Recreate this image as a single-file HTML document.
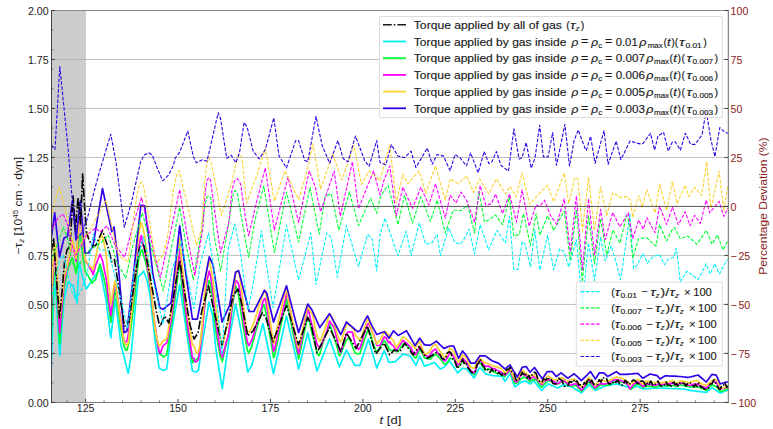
<!DOCTYPE html>
<html><head><meta charset="utf-8"><style>
html,body{margin:0;padding:0;background:#fff;}
svg{display:block;}
text{font-family:"Liberation Sans", sans-serif;fill:#1a1a1a;}
.lg2 text{stroke:#1a1a1a;stroke-width:0.15px;}
.tk{font-size:10.6px;}
.lab{font-size:10.6px;}
.rd{fill:#8b1a1a;}
.lg{font-size:10.6px;}
</style></head><body>
<svg width="773" height="429" viewBox="0 0 773 429">
<rect x="51.3" y="10.5" width="34.60" height="391.90" fill="#cccccc"/>
<line x1="51.3" x2="728.0" y1="353.41" y2="353.41" stroke="#b0b0b0" stroke-width="0.8"/>
<line x1="51.3" x2="728.0" y1="304.42" y2="304.42" stroke="#b0b0b0" stroke-width="0.8"/>
<line x1="51.3" x2="728.0" y1="255.44" y2="255.44" stroke="#b0b0b0" stroke-width="0.8"/>
<line x1="51.3" x2="728.0" y1="157.46" y2="157.46" stroke="#b0b0b0" stroke-width="0.8"/>
<line x1="51.3" x2="728.0" y1="108.48" y2="108.48" stroke="#b0b0b0" stroke-width="0.8"/>
<line x1="51.3" x2="728.0" y1="59.49" y2="59.49" stroke="#b0b0b0" stroke-width="0.8"/>
<defs><clipPath id="ax"><rect x="51.3" y="10.5" width="676.7" height="391.9"/></clipPath></defs>
<g clip-path="url(#ax)" fill="none" stroke-linejoin="round">
<path d="M51.3,368.0 L53.5,300.0 L54.7,291.0 L55.0,288.8 L55.5,285.0 L58.0,326.9 L59.0,343.7 L59.3,348.7 L59.5,352.0 L59.7,355.4 L59.8,354.1 L63.0,312.9 L63.2,310.3 L63.4,307.7 L64.0,300.0 L67.0,286.5 L67.5,284.2 L68.0,282.0 L68.2,282.2 L68.7,282.5 L71.0,284.3 L71.7,284.8 L72.0,285.0 L72.4,285.3 L73.3,286.0 L76.0,298.4 L77.0,303.0 L79.0,262.0 L80.0,266.3 L80.3,267.6 L81.0,270.7 L82.0,275.0 L85.0,284.5 L86.0,287.7 L86.4,289.0 L86.8,288.4 L87.0,288.0 L88.5,285.6 L89.0,284.8 L92.0,280.0 L93.0,278.6 L93.2,278.4 L95.0,275.9 L95.5,275.2 L100.0,269.0 L102.5,281.9 L106.0,300.0 L107.1,308.7 L108.0,315.8 L108.3,318.2 L110.8,338.0 L111.8,329.3 L114.1,309.3 L115.0,301.4 L115.3,298.8 L116.0,304.5 L116.2,306.1 L117.0,312.6 L117.6,317.4 L118.0,320.7 L121.0,345.0 L122.0,348.9 L124.0,356.8 L124.3,358.0 L124.6,359.1 L125.8,363.9 L127.0,368.6 L127.8,371.7 L128.1,372.9 L128.2,373.3 L130.0,362.2 L131.0,356.0 L131.3,352.6 L133.0,333.6 L134.0,322.4 L134.8,313.4 L136.0,300.0 L137.0,290.8 L137.1,289.9 L138.5,277.0 L139.0,276.4 L140.6,274.6 L140.9,274.3 L141.1,274.0 L141.5,273.6 L142.3,272.7 L143.5,271.3 L143.6,271.2 L144.1,272.5 L144.6,273.8 L146.5,278.7 L147.0,280.0 L148.8,289.0 L149.0,290.0 L150.0,295.0 L152.0,313.0 L152.3,315.7 L153.0,322.0 L155.0,340.0 L155.8,345.6 L158.1,361.7 L159.0,368.0 L159.8,368.5 L160.3,368.8 L162.8,370.4 L162.9,370.5 L163.0,370.5 L163.3,370.3 L166.7,369.0 L167.4,363.5 L168.6,354.0 L170.0,342.9 L171.0,335.0 L171.2,333.8 L172.0,329.2 L173.3,321.6 L175.2,310.6 L176.5,303.1 L179.1,288.0 L179.7,284.5 L181.5,297.0 L185.8,326.7 L186.0,328.1 L187.0,335.0 L187.8,340.3 L192.4,371.0 L193.3,371.2 L194.0,371.4 L194.8,371.7 L196.0,372.0 L196.4,371.7 L197.3,371.0 L198.5,370.0 L200.0,359.3 L201.5,348.6 L202.0,345.0 L202.4,342.5 L202.6,341.3 L204.7,328.4 L205.0,326.6 L205.5,323.5 L206.8,315.5 L207.0,314.3 L207.2,313.1 L208.5,305.1 L208.9,302.6 L209.0,302.0 L209.3,303.1 L210.5,307.6 L210.8,308.7 L211.0,309.4 L211.8,312.4 L212.5,315.0 L213.0,320.0 L214.0,330.0 L215.2,342.0 L216.0,350.0 L217.3,358.0 L218.2,363.5 L220.6,378.3 L221.4,383.2 L222.0,386.9 L222.1,387.5 L222.3,388.7 L226.7,356.7 L228.0,347.3 L229.0,340.0 L229.5,337.3 L230.0,334.5 L231.2,328.0 L232.0,323.6 L233.0,318.2 L234.5,310.0 L234.8,308.4 L235.0,307.3 L235.6,304.0 L235.8,305.0 L236.0,305.9 L237.2,311.6 L237.5,313.1 L238.5,317.8 L238.6,318.3 L239.5,322.6 L240.0,325.0 L240.3,326.8 L241.0,331.1 L242.0,337.2 L244.1,350.0 L245.0,355.5 L246.6,365.3 L247.1,368.3 L247.7,372.0 L248.0,371.5 L248.6,370.5 L249.2,369.6 L252.0,365.0 L253.0,361.2 L253.2,360.4 L253.8,358.2 L255.0,353.6 L257.0,346.0 L259.2,337.7 L261.4,329.3 L262.9,323.6 L263.8,327.8 L264.4,330.7 L265.3,334.9 L266.8,342.0 L273.0,371.2 L273.5,373.6 L273.8,372.3 L274.4,369.6 L279.0,349.2 L285.0,322.6 L286.5,316.0 L288.0,322.6 L295.6,355.9 L298.6,369.0 L304.7,344.7 L306.0,339.5 L307.7,332.7 L309.2,338.9 L310.0,342.2 L310.8,345.5 L312.0,350.4 L313.0,354.5 L315.0,362.8 L316.0,366.9 L317.0,371.0 L319.1,365.6 L319.8,363.8 L320.6,361.8 L322.1,357.9 L325.0,350.5 L326.7,346.1 L329.6,338.7 L329.7,339.0 L331.2,343.3 L332.7,347.6 L334.2,351.8 L337.3,360.7 L337.9,362.4 L338.8,365.0 L339.4,366.7 L340.3,364.6 L340.8,363.4 L341.8,361.0 L343.3,357.4 L346.4,350.0 L347.9,352.7 L349.4,355.5 L352.4,360.9 L353.9,363.7 L354.8,365.3 L355.5,365.3 L357.6,365.3 L358.5,365.3 L360.0,365.3 L361.5,360.6 L364.0,352.9 L364.5,351.3 L367.5,342.0 L367.6,341.7 L368.4,339.2 L369.1,341.6 L370.6,346.8 L372.0,351.6 L372.1,351.9 L373.6,357.1 L376.7,367.8 L376.8,368.1 L380.0,360.5 L384.0,351.1 L384.2,350.6 L384.3,350.4 L384.9,352.0 L385.8,354.3 L388.2,360.7 L388.9,362.5 L389.8,362.4 L391.4,362.2 L393.6,361.8 L395.4,361.6 L396.3,360.7 L398.0,359.0 L398.2,358.8 L402.8,354.2 L402.9,354.1 L404.5,354.5 L406.1,354.9 L406.6,355.0 L407.7,355.3 L410.4,356.0 L411.0,357.0 L412.6,359.7 L415.0,363.6 L415.9,365.1 L416.0,365.3 L419.2,357.3 L419.7,356.0 L420.8,358.4 L424.4,366.2 L425.7,365.7 L427.3,365.1 L428.9,364.6 L430.0,364.2 L430.6,364.0 L432.2,363.4 L434.6,362.5 L435.5,363.5 L436.5,364.7 L437.1,365.4 L440.2,369.0 L440.4,368.9 L443.6,367.4 L443.9,367.3 L445.3,365.7 L448.5,362.1 L449.6,360.8 L450.1,361.6 L453.4,366.5 L453.7,367.0 L455.0,368.9 L456.0,370.4 L457.7,373.0 L458.3,372.4 L458.5,372.2 L460.0,370.7 L460.6,370.1 L461.0,369.7 L462.6,368.1 L466.5,369.0 L466.7,369.0 L467.6,370.1 L469.0,371.8 L470.6,373.8 L470.8,374.0 L473.6,377.4 L474.0,377.9 L474.6,376.8 L474.9,376.3 L478.2,370.2 L478.8,369.1 L479.7,367.5 L479.8,367.3 L480.2,367.8 L484.2,372.3 L484.4,372.5 L485.5,373.8 L485.8,373.9 L488.6,374.6 L488.8,374.7 L490.0,375.0 L491.4,375.3 L491.8,375.4 L492.0,375.5 L495.6,375.8 L496.4,375.9 L497.0,375.9 L498.5,376.0 L500.9,376.2 L501.8,376.3 L502.6,377.5 L505.0,381.2 L505.3,380.8 L505.5,380.5 L508.5,376.0 L509.5,374.5 L510.0,373.8 L513.7,383.9 L513.9,384.4 L514.8,386.9 L516.0,386.0 L516.5,385.6 L517.3,385.0 L518.0,384.5 L519.1,383.7 L519.3,383.6 L521.4,382.0 L522.1,381.8 L522.2,381.8 L523.5,381.5 L525.0,381.2 L526.0,381.0 L526.1,381.1 L526.2,381.2 L529.1,383.3 L529.7,383.8 L530.0,384.0 L530.5,383.6 L531.2,383.1 L534.0,381.0 L534.6,381.8 L534.7,381.9 L535.0,382.3 L536.1,383.6 L539.7,388.1 L540.0,388.5 L541.5,390.4 L542.3,389.6 L543.4,388.5 L544.5,387.4 L547.2,384.8 L547.6,384.4 L548.1,383.9 L550.6,384.9 L552.1,385.6 L552.7,385.8 L553.6,386.2 L556.2,387.3 L556.5,387.4 L556.7,387.5 L557.9,388.0 L559.7,387.0 L561.1,386.1 L563.6,384.7 L564.2,384.9 L564.9,385.1 L567.7,385.8 L568.8,386.1 L569.5,386.3 L570.3,386.5 L572.0,387.0 L574.2,388.4 L574.8,388.7 L576.4,389.7 L577.9,390.7 L578.3,390.9 L581.5,392.9 L582.4,391.9 L585.4,388.6 L586.3,387.6 L588.5,385.1 L588.9,384.7 L590.5,386.1 L590.6,386.2 L594.5,389.6 L595.1,390.1 L595.4,390.4 L599.5,388.5 L600.6,388.0 L603.6,386.6 L604.0,386.5 L605.0,386.0 L605.2,386.0 L606.7,385.7 L607.7,385.5 L608.1,385.4 L611.2,384.9 L612.7,384.6 L613.0,384.5 L616.0,384.0 L616.2,384.0 L616.5,383.9 L619.8,384.8 L620.0,384.9 L620.5,385.0 L620.8,385.1 L625.0,386.3 L626.3,386.6 L626.5,386.7 L627.0,386.8 L628.2,387.2 L629.3,387.5 L629.8,387.6 L630.1,387.7 L630.5,387.8 L631.2,388.0 L632.8,387.6 L632.9,387.6 L633.6,387.4 L635.0,387.0 L637.3,386.4 L637.8,386.3 L638.6,386.7 L640.0,387.4 L642.1,388.5 L642.7,388.8 L642.9,388.8 L643.0,388.8 L643.3,388.8 L646.6,388.6 L646.8,388.6 L647.6,388.6 L650.0,388.5 L650.5,388.4 L652.2,388.4 L654.6,388.2 L655.0,388.2 L656.0,388.2 L657.3,388.1 L658.0,388.1 L659.6,388.0 L659.7,388.0 L659.8,388.0 L660.0,388.0 L663.6,388.1 L664.4,388.2 L665.5,388.2 L666.6,388.3 L668.1,388.3 L668.3,388.3 L672.0,388.5 L672.4,388.5 L673.7,388.6 L674.6,388.6 L675.0,388.6 L676.5,388.7 L677.1,388.7 L678.3,388.8 L680.2,388.8 L680.4,388.9 L684.0,389.0 L685.3,389.3 L685.4,389.3 L686.8,389.7 L687.7,389.9 L688.2,390.0 L688.8,390.1 L690.0,390.4 L690.6,390.5 L691.4,390.6 L694.6,391.0 L695.0,391.0 L697.0,391.3 L698.0,391.4 L700.4,391.7 L701.6,391.8 L702.0,391.9 L706.2,392.4 L706.3,392.4 L706.4,392.4 L706.7,392.1 L709.7,389.6 L710.1,389.2 L710.5,388.9 L710.9,388.5 L712.0,387.6 L714.7,389.4 L714.9,389.5 L716.2,390.4 L717.5,391.2 L719.1,392.3 L719.4,392.5 L719.8,392.8 L720.3,393.1 L723.1,392.0 L723.7,391.7 L725.0,391.2 L726.0,390.8 L726.9,390.4 L728.0,390.0" stroke="#00f0f8" stroke-width="1.7"/>
<path d="M51.3,336.1 L53.5,281.5 L54.7,273.0 L55.0,272.0 L55.5,271.3 L58.0,315.0 L59.0,332.6 L59.3,337.5 L59.5,340.7 L59.7,343.7 L59.8,342.5 L63.0,300.9 L63.2,298.0 L63.4,295.0 L64.0,287.7 L67.0,274.2 L67.5,271.8 L68.0,268.5 L68.2,268.1 L68.7,267.0 L71.0,260.9 L71.7,259.8 L72.0,259.6 L72.4,258.2 L73.3,260.2 L76.0,273.5 L77.0,267.4 L79.0,237.6 L80.0,235.1 L80.3,234.4 L81.0,239.7 L82.0,248.2 L85.0,270.5 L86.0,272.7 L86.4,273.7 L86.8,273.5 L87.0,273.5 L88.5,276.6 L89.0,277.5 L92.0,283.2 L93.0,281.9 L93.2,281.7 L95.0,280.1 L95.5,279.6 L100.0,264.1 L102.5,272.7 L106.0,288.1 L107.1,295.7 L108.0,301.9 L108.3,303.0 L110.8,322.5 L111.8,314.9 L114.1,295.8 L115.0,290.1 L115.3,288.2 L116.0,293.7 L116.2,295.2 L117.0,301.1 L117.6,305.1 L118.0,307.8 L121.0,330.1 L122.0,335.1 L124.0,346.4 L124.3,346.7 L124.6,347.4 L125.8,350.1 L127.0,350.2 L127.8,346.8 L128.1,346.2 L128.2,346.0 L130.0,334.4 L131.0,328.1 L131.3,325.5 L133.0,311.1 L134.0,303.5 L134.8,295.1 L136.0,282.5 L137.0,273.2 L137.1,272.3 L138.5,259.9 L139.0,258.1 L140.6,252.5 L140.9,251.2 L141.1,251.0 L141.5,250.6 L142.3,249.7 L143.5,255.5 L143.6,255.9 L144.1,257.3 L144.6,258.4 L146.5,266.0 L147.0,268.0 L148.8,278.4 L149.0,279.5 L150.0,285.3 L152.0,303.3 L152.3,305.9 L153.0,312.1 L155.0,327.9 L155.8,332.9 L158.1,347.4 L159.0,353.1 L159.8,354.3 L160.3,354.5 L162.8,355.7 L162.9,355.8 L163.0,356.1 L163.3,357.1 L166.7,354.7 L167.4,350.1 L168.6,342.3 L170.0,333.4 L171.0,327.1 L171.2,326.2 L172.0,321.0 L173.3,311.3 L175.2,297.3 L176.5,287.0 L179.1,265.3 L179.7,260.1 L181.5,283.0 L185.8,317.1 L186.0,318.6 L187.0,325.6 L187.8,331.3 L192.4,362.2 L193.3,362.4 L194.0,360.1 L194.8,360.1 L196.0,360.0 L196.4,359.6 L197.3,358.9 L198.5,356.6 L200.0,346.3 L201.5,333.2 L202.0,328.8 L202.4,325.6 L202.6,323.9 L204.7,306.3 L205.0,303.8 L205.5,300.3 L206.8,291.2 L207.0,289.8 L207.2,289.1 L208.5,284.2 L208.9,281.4 L209.0,280.8 L209.3,280.6 L210.5,284.1 L210.8,285.0 L211.0,286.6 L211.8,292.4 L212.5,297.3 L213.0,302.8 L214.0,315.2 L215.2,325.4 L216.0,332.2 L217.3,339.7 L218.2,345.0 L220.6,357.7 L221.4,359.1 L222.0,360.2 L222.1,360.9 L222.3,361.6 L226.7,341.8 L228.0,337.7 L229.0,330.6 L229.5,327.8 L230.0,324.5 L231.2,316.2 L232.0,310.2 L233.0,302.5 L234.5,293.4 L234.8,291.6 L235.0,289.9 L235.6,286.1 L235.8,286.3 L236.0,286.8 L237.2,289.5 L237.5,290.1 L238.5,294.8 L238.6,295.3 L239.5,301.4 L240.0,305.0 L240.3,307.2 L241.0,312.1 L242.0,318.8 L244.1,332.2 L245.0,337.0 L246.6,345.6 L247.1,348.3 L247.7,351.4 L248.0,351.3 L248.6,353.0 L249.2,352.3 L252.0,345.4 L253.0,341.5 L253.2,340.8 L253.8,338.9 L255.0,334.1 L257.0,327.4 L259.2,320.0 L261.4,313.7 L262.9,305.8 L263.8,304.6 L264.4,306.0 L265.3,310.0 L266.8,317.5 L273.0,353.8 L273.5,357.7 L273.8,357.4 L274.4,356.5 L279.0,334.0 L285.0,306.1 L286.5,298.5 L288.0,307.3 L295.6,345.7 L298.6,359.1 L304.7,330.5 L306.0,324.6 L307.7,316.7 L309.2,320.6 L310.0,322.7 L310.8,328.1 L312.0,332.6 L313.0,336.6 L315.0,344.3 L316.0,348.1 L317.0,353.4 L319.1,355.6 L319.8,353.9 L320.6,351.1 L322.1,345.7 L325.0,335.4 L326.7,332.4 L329.6,324.4 L329.7,324.5 L331.2,328.3 L332.7,333.4 L334.2,338.1 L337.3,347.5 L337.9,350.4 L338.8,354.4 L339.4,355.8 L340.3,354.7 L340.8,354.1 L341.8,351.5 L343.3,347.5 L346.4,340.2 L347.9,338.5 L349.4,338.4 L352.4,346.4 L353.9,350.1 L354.8,352.2 L355.5,353.0 L357.6,353.9 L358.5,354.0 L360.0,353.4 L361.5,348.8 L364.0,341.0 L364.5,339.5 L367.5,331.0 L367.6,330.9 L368.4,329.4 L369.1,330.7 L370.6,334.4 L372.0,340.0 L372.1,340.4 L373.6,344.5 L376.7,353.0 L376.8,353.2 L380.0,346.8 L384.0,340.9 L384.2,340.6 L384.3,340.5 L384.9,341.7 L385.8,342.5 L388.2,346.8 L388.9,349.3 L389.8,349.8 L391.4,350.5 L393.6,350.0 L395.4,351.4 L396.3,351.5 L398.0,351.6 L398.2,351.4 L402.8,344.5 L402.9,344.3 L404.5,342.8 L406.1,345.3 L406.6,345.4 L407.7,346.6 L410.4,349.2 L411.0,350.3 L412.6,354.5 L415.0,357.8 L415.9,357.9 L416.0,358.0 L419.2,351.0 L419.7,349.2 L420.8,349.9 L424.4,357.8 L425.7,357.9 L427.3,358.7 L428.9,358.9 L430.0,359.1 L430.6,359.1 L432.2,356.8 L434.6,354.8 L435.5,354.9 L436.5,354.9 L437.1,355.3 L440.2,358.8 L440.4,358.8 L443.6,363.4 L443.9,363.7 L445.3,364.3 L448.5,361.0 L449.6,358.4 L450.1,358.4 L453.4,359.0 L453.7,359.3 L455.0,361.7 L456.0,363.6 L457.7,366.7 L458.3,366.8 L458.5,366.9 L460.0,364.9 L460.6,364.0 L461.0,363.5 L462.6,361.3 L466.5,363.4 L466.7,363.6 L467.6,365.2 L469.0,368.8 L470.6,371.3 L470.8,371.5 L473.6,374.1 L474.0,374.5 L474.6,373.7 L474.9,372.9 L478.2,363.0 L478.8,361.3 L479.7,361.5 L479.8,361.5 L480.2,362.6 L484.2,369.3 L484.4,369.5 L485.5,369.8 L485.8,369.7 L488.6,368.9 L488.8,369.0 L490.0,369.8 L491.4,370.7 L491.8,370.9 L492.0,371.1 L495.6,372.6 L496.4,373.2 L497.0,373.6 L498.5,373.7 L500.9,374.1 L501.8,374.3 L502.6,375.5 L505.0,376.7 L505.3,376.0 L505.5,375.8 L508.5,371.8 L509.5,371.1 L510.0,370.8 L513.7,380.8 L513.9,381.3 L514.8,383.4 L516.0,383.1 L516.5,382.9 L517.3,382.8 L518.0,381.9 L519.1,381.0 L519.3,380.9 L521.4,378.7 L522.1,378.3 L522.2,378.1 L523.5,376.9 L525.0,377.7 L526.0,377.8 L526.1,377.9 L526.2,378.0 L529.1,380.7 L529.7,381.3 L530.0,381.6 L530.5,381.2 L531.2,380.6 L534.0,379.2 L534.6,380.0 L534.7,380.2 L535.0,379.9 L536.1,379.5 L539.7,385.0 L540.0,385.4 L541.5,387.1 L542.3,386.7 L543.4,385.3 L544.5,384.2 L547.2,381.4 L547.6,381.2 L548.1,380.7 L550.6,381.3 L552.1,381.7 L552.7,382.1 L553.6,382.3 L556.2,383.4 L556.5,383.3 L556.7,383.4 L557.9,383.7 L559.7,383.1 L561.1,382.0 L563.6,381.5 L564.2,381.7 L564.9,382.4 L567.7,384.2 L568.8,384.6 L569.5,385.4 L570.3,386.5 L572.0,386.0 L574.2,385.7 L574.8,385.7 L576.4,385.7 L577.9,387.6 L578.3,388.1 L581.5,391.0 L582.4,390.2 L585.4,386.2 L586.3,384.9 L588.5,382.0 L588.9,381.8 L590.5,383.2 L590.6,383.4 L594.5,388.0 L595.1,388.4 L595.4,388.7 L599.5,385.6 L600.6,385.1 L603.6,384.8 L604.0,384.8 L605.0,384.5 L605.2,384.5 L606.7,385.5 L607.7,385.1 L608.1,385.0 L611.2,383.9 L612.7,382.4 L613.0,382.2 L616.0,381.3 L616.2,381.3 L616.5,381.1 L619.8,381.9 L620.0,381.9 L620.5,381.6 L620.8,381.7 L625.0,382.9 L626.3,383.4 L626.5,383.5 L627.0,384.2 L628.2,386.1 L629.3,388.3 L629.8,389.0 L630.1,389.1 L630.5,389.2 L631.2,389.2 L632.8,387.7 L632.9,387.5 L633.6,386.0 L635.0,385.2 L637.3,384.1 L637.8,383.9 L638.6,384.2 L640.0,385.3 L642.1,386.8 L642.7,387.3 L642.9,387.3 L643.0,387.3 L643.3,387.2 L646.6,386.2 L646.8,386.2 L647.6,386.0 L650.0,386.3 L650.5,386.4 L652.2,386.6 L654.6,386.8 L655.0,386.9 L656.0,387.1 L657.3,386.3 L658.0,386.1 L659.6,385.7 L659.7,385.7 L659.8,385.8 L660.0,385.8 L663.6,385.6 L664.4,385.5 L665.5,385.7 L666.6,386.1 L668.1,385.9 L668.3,385.9 L672.0,385.5 L672.4,385.4 L673.7,385.4 L674.6,385.7 L675.0,385.9 L676.5,386.7 L677.1,386.3 L678.3,385.7 L680.2,384.8 L680.4,384.8 L684.0,385.6 L685.3,386.1 L685.4,386.1 L686.8,386.5 L687.7,386.5 L688.2,386.6 L688.8,386.7 L690.0,386.8 L690.6,386.8 L691.4,386.8 L694.6,387.0 L695.0,387.0 L697.0,387.2 L698.0,387.0 L700.4,387.8 L701.6,388.2 L702.0,388.4 L706.2,390.1 L706.3,390.1 L706.4,390.1 L706.7,389.8 L709.7,386.6 L710.1,386.2 L710.5,385.9 L710.9,385.6 L712.0,384.9 L714.7,386.1 L714.9,386.1 L716.2,386.5 L717.5,387.6 L719.1,389.7 L719.4,390.0 L719.8,390.6 L720.3,391.2 L723.1,390.8 L723.7,390.6 L725.0,390.0 L726.0,389.6 L726.9,389.3 L728.0,388.7" stroke="#00ff33" stroke-width="1.7"/>
<path d="M51.3,309.3 L53.5,265.4 L54.7,257.0 L55.0,257.0 L55.5,258.9 L58.0,302.9 L59.0,321.2 L59.3,326.4 L59.5,329.8 L59.7,332.7 L59.8,331.8 L63.0,294.4 L63.2,291.7 L63.4,289.4 L64.0,282.3 L67.0,269.0 L67.5,266.7 L68.0,263.1 L68.2,262.5 L68.7,260.6 L71.0,249.6 L71.7,246.2 L72.0,245.2 L72.4,242.9 L73.3,246.1 L76.0,261.1 L77.0,249.2 L79.0,224.5 L80.0,218.0 L80.3,215.9 L81.0,222.0 L82.0,232.0 L85.0,260.6 L86.0,261.6 L86.4,262.3 L86.8,262.6 L87.0,262.8 L88.5,265.8 L89.0,266.4 L92.0,271.5 L93.0,274.3 L93.2,274.8 L95.0,267.7 L95.5,265.7 L100.0,254.3 L102.5,260.6 L106.0,277.8 L107.1,285.6 L108.0,294.8 L108.3,297.0 L110.8,315.4 L111.8,308.1 L114.1,288.8 L115.0,284.1 L115.3,282.4 L116.0,287.2 L116.2,288.5 L117.0,293.6 L117.6,297.3 L118.0,299.8 L121.0,322.1 L122.0,327.8 L124.0,341.4 L124.3,341.2 L124.6,341.7 L125.8,341.7 L127.0,341.6 L127.8,336.7 L128.1,335.2 L128.2,334.7 L130.0,321.6 L131.0,314.5 L131.3,311.9 L133.0,298.1 L134.0,290.4 L134.8,282.4 L136.0,270.5 L137.0,261.3 L137.1,260.4 L138.5,248.4 L139.0,245.9 L140.6,238.0 L140.9,236.2 L141.1,236.1 L141.5,235.7 L142.3,239.9 L143.5,246.3 L143.6,246.8 L144.1,248.6 L144.6,250.1 L146.5,260.3 L147.0,262.8 L148.8,274.6 L149.0,275.8 L150.0,282.3 L152.0,300.6 L152.3,303.4 L153.0,309.7 L155.0,325.6 L155.8,330.8 L158.1,345.7 L159.0,351.6 L159.8,353.1 L160.3,353.4 L162.8,346.1 L162.9,345.8 L163.0,345.8 L163.3,345.6 L166.7,342.9 L167.4,339.3 L168.6,333.1 L170.0,326.2 L171.0,321.2 L171.2,320.4 L172.0,314.5 L173.3,304.1 L175.2,289.2 L176.5,278.0 L179.1,254.7 L179.7,249.1 L181.5,272.4 L185.8,310.5 L186.0,312.1 L187.0,320.0 L187.8,326.1 L192.4,357.8 L193.3,358.1 L194.0,358.5 L194.8,361.7 L196.0,361.8 L196.4,361.5 L197.3,360.9 L198.5,359.0 L200.0,349.0 L201.5,336.7 L202.0,332.7 L202.4,329.7 L202.6,328.2 L204.7,303.0 L205.0,299.3 L205.5,293.0 L206.8,282.2 L207.0,280.5 L207.2,279.2 L208.5,274.2 L208.9,272.0 L209.0,271.5 L209.3,271.2 L210.5,275.7 L210.8,277.7 L211.0,278.9 L211.8,283.9 L212.5,287.9 L213.0,292.2 L214.0,302.9 L215.2,314.6 L216.0,322.2 L217.3,331.6 L218.2,337.9 L220.6,352.3 L221.4,354.3 L222.0,355.9 L222.1,356.6 L222.3,357.2 L226.7,340.1 L228.0,337.2 L229.0,331.0 L229.5,327.3 L230.0,323.1 L231.2,312.9 L232.0,305.5 L233.0,298.7 L234.5,288.2 L234.8,286.5 L235.0,285.0 L235.6,280.7 L235.8,280.6 L236.0,280.8 L237.2,281.7 L237.5,282.2 L238.5,284.0 L238.6,284.2 L239.5,288.6 L240.0,292.2 L240.3,294.3 L241.0,299.2 L242.0,307.4 L244.1,323.5 L245.0,328.9 L246.6,337.6 L247.1,340.3 L247.7,343.4 L248.0,343.6 L248.6,345.5 L249.2,345.3 L252.0,339.4 L253.0,336.1 L253.2,335.5 L253.8,334.0 L255.0,329.8 L257.0,322.5 L259.2,314.7 L261.4,308.3 L262.9,301.6 L263.8,299.8 L264.4,298.5 L265.3,298.8 L266.8,306.8 L273.0,347.3 L273.5,351.2 L273.8,351.1 L274.4,350.1 L279.0,327.5 L285.0,301.0 L286.5,293.6 L288.0,297.7 L295.6,340.1 L298.6,354.0 L304.7,324.0 L306.0,317.8 L307.7,309.7 L309.2,312.7 L310.0,316.8 L310.8,321.1 L312.0,325.1 L313.0,328.9 L315.0,336.1 L316.0,340.2 L317.0,344.5 L319.1,347.1 L319.8,347.9 L320.6,347.4 L322.1,343.3 L325.0,336.0 L326.7,331.5 L329.6,321.1 L329.7,321.1 L331.2,323.7 L332.7,325.6 L334.2,327.8 L337.3,340.5 L337.9,343.6 L338.8,347.6 L339.4,350.5 L340.3,352.4 L340.8,351.7 L341.8,348.7 L343.3,343.8 L346.4,334.1 L347.9,332.0 L349.4,331.9 L352.4,332.4 L353.9,338.8 L354.8,342.3 L355.5,344.5 L357.6,348.3 L358.5,349.3 L360.0,348.2 L361.5,343.2 L364.0,334.6 L364.5,333.0 L367.5,324.0 L367.6,324.0 L368.4,323.6 L369.1,324.5 L370.6,328.2 L372.0,331.7 L372.1,331.9 L373.6,334.5 L376.7,345.1 L376.8,345.4 L380.0,345.5 L384.0,337.2 L384.2,336.9 L384.3,336.7 L384.9,337.4 L385.8,337.8 L388.2,341.7 L388.9,342.8 L389.8,341.6 L391.4,344.4 L393.6,346.1 L395.4,349.9 L396.3,351.0 L398.0,347.7 L398.2,347.6 L402.8,340.5 L402.9,340.5 L404.5,341.5 L406.1,343.2 L406.6,343.1 L407.7,344.3 L410.4,347.0 L411.0,348.1 L412.6,351.6 L415.0,354.7 L415.9,354.1 L416.0,354.1 L419.2,347.8 L419.7,346.3 L420.8,347.3 L424.4,355.2 L425.7,355.4 L427.3,356.3 L428.9,356.3 L430.0,355.0 L430.6,354.1 L432.2,351.4 L434.6,349.3 L435.5,349.0 L436.5,350.5 L437.1,352.1 L440.2,355.8 L440.4,355.9 L443.6,360.4 L443.9,360.7 L445.3,361.0 L448.5,355.6 L449.6,352.8 L450.1,352.3 L453.4,356.4 L453.7,356.7 L455.0,359.9 L456.0,362.0 L457.7,364.5 L458.3,364.7 L458.5,364.8 L460.0,362.0 L460.6,360.8 L461.0,360.0 L462.6,358.1 L466.5,362.3 L466.7,362.6 L467.6,364.8 L469.0,368.1 L470.6,370.5 L470.8,370.7 L473.6,372.6 L474.0,372.8 L474.6,372.0 L474.9,371.5 L478.2,363.2 L478.8,362.0 L479.7,360.1 L479.8,359.9 L480.2,359.9 L484.2,365.2 L484.4,365.3 L485.5,366.2 L485.8,366.4 L488.6,366.0 L488.8,366.1 L490.0,367.0 L491.4,368.0 L491.8,368.2 L492.0,368.3 L495.6,369.1 L496.4,369.9 L497.0,370.3 L498.5,370.8 L500.9,372.0 L501.8,372.6 L502.6,373.8 L505.0,375.3 L505.3,374.8 L505.5,374.5 L508.5,371.1 L509.5,370.6 L510.0,370.0 L513.7,378.5 L513.9,379.1 L514.8,381.3 L516.0,381.7 L516.5,381.9 L517.3,381.6 L518.0,380.3 L519.1,378.3 L519.3,377.9 L521.4,374.2 L522.1,373.0 L522.2,373.0 L523.5,374.2 L525.0,375.4 L526.0,375.8 L526.1,375.9 L526.2,375.9 L529.1,379.1 L529.7,379.2 L530.0,379.3 L530.5,378.4 L531.2,377.8 L534.0,376.8 L534.6,377.5 L534.7,377.8 L535.0,377.7 L536.1,378.2 L539.7,382.5 L540.0,382.7 L541.5,384.4 L542.3,384.3 L543.4,382.5 L544.5,381.2 L547.2,379.8 L547.6,380.0 L548.1,379.5 L550.6,380.4 L552.1,380.7 L552.7,381.1 L553.6,381.3 L556.2,383.2 L556.5,383.2 L556.7,383.3 L557.9,383.4 L559.7,382.4 L561.1,381.1 L563.6,380.6 L564.2,380.8 L564.9,381.6 L567.7,383.5 L568.8,383.8 L569.5,384.5 L570.3,385.5 L572.0,384.8 L574.2,384.1 L574.8,384.0 L576.4,383.9 L577.9,386.2 L578.3,386.7 L581.5,390.0 L582.4,389.3 L585.4,384.8 L586.3,383.4 L588.5,380.0 L588.9,379.9 L590.5,381.5 L590.6,381.7 L594.5,387.1 L595.1,387.5 L595.4,387.7 L599.5,384.2 L600.6,383.6 L603.6,384.0 L604.0,384.0 L605.0,383.9 L605.2,383.9 L606.7,383.5 L607.7,383.2 L608.1,382.9 L611.2,381.7 L612.7,380.4 L613.0,380.3 L616.0,379.7 L616.2,379.6 L616.5,379.5 L619.8,380.5 L620.0,380.5 L620.5,380.3 L620.8,380.4 L625.0,382.5 L626.3,383.4 L626.5,383.6 L627.0,384.0 L628.2,385.1 L629.3,387.7 L629.8,389.0 L630.1,388.6 L630.5,388.1 L631.2,387.3 L632.8,385.4 L632.9,385.2 L633.6,383.9 L635.0,383.2 L637.3,382.1 L637.8,381.9 L638.6,382.2 L640.0,383.6 L642.1,385.7 L642.7,386.3 L642.9,386.4 L643.0,386.3 L643.3,386.3 L646.6,384.2 L646.8,384.1 L647.6,384.0 L650.0,384.3 L650.5,384.5 L652.2,384.8 L654.6,385.2 L655.0,385.4 L656.0,384.9 L657.3,384.3 L658.0,384.3 L659.6,384.3 L659.7,384.3 L659.8,384.4 L660.0,384.4 L663.6,384.1 L664.4,384.0 L665.5,384.0 L666.6,384.3 L668.1,383.9 L668.3,383.8 L672.0,383.1 L672.4,383.1 L673.7,383.6 L674.6,384.1 L675.0,384.4 L676.5,385.3 L677.1,385.0 L678.3,384.6 L680.2,383.2 L680.4,383.1 L684.0,383.6 L685.3,383.9 L685.4,384.0 L686.8,384.6 L687.7,384.9 L688.2,385.1 L688.8,385.3 L690.0,385.5 L690.6,385.3 L691.4,385.1 L694.6,383.9 L695.0,384.0 L697.0,384.2 L698.0,384.4 L700.4,386.2 L701.6,386.4 L702.0,386.4 L706.2,388.0 L706.3,388.1 L706.4,388.1 L706.7,387.8 L709.7,384.4 L710.1,383.8 L710.5,383.2 L710.9,382.7 L712.0,381.3 L714.7,381.7 L714.9,381.6 L716.2,382.3 L717.5,384.3 L719.1,386.7 L719.4,387.3 L719.8,388.0 L720.3,388.9 L723.1,388.5 L723.7,388.4 L725.0,387.9 L726.0,387.4 L726.9,387.1 L728.0,386.7" stroke="#ff00ff" stroke-width="1.7"/>
<path d="M51.3,299.2 L53.5,255.0 L54.7,243.8 L55.0,244.0 L55.5,247.6 L58.0,289.4 L59.0,306.4 L59.3,311.3 L59.5,315.2 L59.7,318.1 L59.8,317.7 L63.0,288.1 L63.2,286.0 L63.4,283.9 L64.0,277.6 L67.0,266.5 L67.5,264.6 L68.0,261.2 L68.2,260.4 L68.7,258.2 L71.0,247.0 L71.7,243.6 L72.0,242.6 L72.4,240.2 L73.3,243.5 L76.0,258.6 L77.0,245.9 L79.0,222.5 L80.0,215.8 L80.3,213.6 L81.0,219.8 L82.0,230.0 L85.0,259.5 L86.0,261.0 L86.4,261.7 L86.8,261.9 L87.0,262.1 L88.5,264.9 L89.0,265.4 L92.0,267.7 L93.0,269.2 L93.2,269.3 L95.0,260.8 L95.5,258.5 L100.0,237.2 L102.5,236.0 L106.0,252.5 L107.1,265.9 L108.0,276.9 L108.3,279.8 L110.8,304.1 L111.8,299.6 L114.1,284.7 L115.0,281.8 L115.3,280.8 L116.0,286.7 L116.2,288.4 L117.0,294.8 L117.6,299.6 L118.0,302.1 L121.0,324.0 L122.0,329.5 L124.0,342.1 L124.3,342.0 L124.6,342.4 L125.8,344.3 L127.0,346.2 L127.8,343.7 L128.1,343.6 L128.2,343.2 L130.0,327.7 L131.0,318.7 L131.3,315.4 L133.0,297.4 L134.0,286.7 L134.8,276.5 L136.0,261.9 L137.0,250.3 L137.1,249.2 L138.5,236.8 L139.0,233.2 L140.6,224.3 L140.9,222.3 L141.1,222.4 L141.5,223.6 L142.3,226.1 L143.5,229.8 L143.6,230.4 L144.1,233.0 L144.6,235.2 L146.5,250.3 L147.0,253.9 L148.8,268.5 L149.0,270.0 L150.0,277.7 L152.0,298.5 L152.3,301.6 L153.0,308.6 L155.0,326.8 L155.8,333.0 L158.1,342.3 L159.0,345.8 L159.8,345.7 L160.3,344.9 L162.8,341.2 L162.9,341.1 L163.0,341.2 L163.3,341.0 L166.7,338.5 L167.4,335.3 L168.6,327.6 L170.0,319.7 L171.0,314.6 L171.2,313.8 L172.0,306.3 L173.3,293.0 L175.2,276.7 L176.5,264.3 L179.1,241.6 L179.7,238.7 L181.5,259.9 L185.8,298.5 L186.0,300.2 L187.0,308.2 L187.8,314.6 L192.4,345.3 L193.3,345.3 L194.0,345.7 L194.8,347.9 L196.0,351.7 L196.4,352.8 L197.3,353.1 L198.5,351.5 L200.0,343.4 L201.5,333.4 L202.0,327.0 L202.4,322.1 L202.6,319.6 L204.7,292.6 L205.0,289.5 L205.5,284.5 L206.8,270.9 L207.0,269.5 L207.2,268.7 L208.5,263.3 L208.9,261.4 L209.0,261.2 L209.3,260.7 L210.5,266.6 L210.8,267.9 L211.0,268.8 L211.8,273.3 L212.5,277.0 L213.0,280.5 L214.0,290.3 L215.2,301.3 L216.0,308.8 L217.3,318.8 L218.2,325.4 L220.6,340.0 L221.4,344.3 L222.0,346.1 L222.1,346.7 L222.3,346.9 L226.7,327.7 L228.0,324.3 L229.0,319.6 L229.5,317.6 L230.0,314.7 L231.2,307.5 L232.0,302.2 L233.0,294.7 L234.5,282.8 L234.8,280.4 L235.0,278.6 L235.6,273.3 L235.8,272.6 L236.0,272.3 L237.2,271.7 L237.5,271.5 L238.5,271.0 L238.6,271.0 L239.5,275.4 L240.0,278.7 L240.3,280.6 L241.0,285.8 L242.0,292.8 L244.1,312.5 L245.0,318.7 L246.6,329.7 L247.1,330.9 L247.7,332.0 L248.0,331.6 L248.6,332.0 L249.2,332.4 L252.0,327.2 L253.0,324.6 L253.2,324.1 L253.8,323.1 L255.0,319.2 L257.0,312.6 L259.2,304.6 L261.4,298.6 L262.9,294.2 L263.8,291.9 L264.4,290.3 L265.3,290.8 L266.8,298.4 L273.0,339.8 L273.5,343.5 L273.8,343.3 L274.4,341.9 L279.0,318.6 L285.0,292.5 L286.5,289.0 L288.0,297.8 L295.6,335.6 L298.6,348.1 L304.7,319.6 L306.0,314.0 L307.7,305.9 L309.2,308.8 L310.0,310.4 L310.8,312.0 L312.0,313.7 L313.0,316.0 L315.0,326.9 L316.0,331.9 L317.0,335.8 L319.1,340.0 L319.8,341.3 L320.6,340.9 L322.1,336.4 L325.0,328.4 L326.7,323.4 L329.6,313.6 L329.7,313.6 L331.2,316.4 L332.7,319.1 L334.2,324.3 L337.3,334.0 L337.9,336.2 L338.8,338.4 L339.4,339.9 L340.3,341.1 L340.8,341.7 L341.8,340.0 L343.3,334.6 L346.4,324.6 L347.9,323.6 L349.4,325.2 L352.4,328.2 L353.9,329.7 L354.8,332.9 L355.5,335.0 L357.6,338.0 L358.5,338.3 L360.0,339.5 L361.5,337.8 L364.0,329.4 L364.5,327.8 L367.5,319.4 L367.6,319.5 L368.4,320.0 L369.1,320.9 L370.6,326.3 L372.0,331.3 L372.1,331.6 L373.6,335.7 L376.7,343.8 L376.8,344.0 L380.0,340.1 L384.0,332.1 L384.2,331.8 L384.3,331.6 L384.9,331.6 L385.8,331.6 L388.2,335.3 L388.9,336.3 L389.8,335.0 L391.4,338.6 L393.6,340.7 L395.4,345.6 L396.3,347.4 L398.0,344.6 L398.2,344.5 L402.8,337.1 L402.9,337.1 L404.5,337.6 L406.1,338.9 L406.6,338.9 L407.7,340.6 L410.4,342.8 L411.0,343.7 L412.6,345.7 L415.0,348.3 L415.9,346.4 L416.0,346.3 L419.2,341.7 L419.7,341.4 L420.8,344.4 L424.4,353.7 L425.7,354.5 L427.3,353.7 L428.9,351.9 L430.0,350.7 L430.6,349.6 L432.2,346.6 L434.6,344.7 L435.5,344.1 L436.5,345.2 L437.1,346.8 L440.2,351.4 L440.4,351.6 L443.6,356.5 L443.9,356.8 L445.3,357.0 L448.5,351.3 L449.6,348.8 L450.1,348.1 L453.4,351.5 L453.7,351.8 L455.0,355.5 L456.0,357.7 L457.7,361.5 L458.3,362.4 L458.5,362.6 L460.0,359.9 L460.6,358.7 L461.0,358.0 L462.6,355.0 L466.5,357.6 L466.7,358.0 L467.6,360.4 L469.0,363.9 L470.6,367.1 L470.8,367.4 L473.6,368.3 L474.0,368.1 L474.6,367.2 L474.9,366.9 L478.2,360.1 L478.8,359.3 L479.7,358.2 L479.8,358.2 L480.2,358.7 L484.2,362.6 L484.4,362.7 L485.5,362.9 L485.8,363.0 L488.6,364.0 L488.8,364.1 L490.0,364.7 L491.4,365.2 L491.8,365.4 L492.0,365.5 L495.6,366.7 L496.4,367.0 L497.0,367.2 L498.5,367.4 L500.9,368.6 L501.8,369.2 L502.6,370.2 L505.0,373.1 L505.3,372.8 L505.5,372.7 L508.5,369.5 L509.5,369.5 L510.0,368.7 L513.7,376.8 L513.9,377.4 L514.8,379.2 L516.0,379.8 L516.5,379.8 L517.3,379.9 L518.0,378.4 L519.1,376.0 L519.3,375.7 L521.4,371.5 L522.1,370.1 L522.2,370.0 L523.5,371.2 L525.0,372.4 L526.0,372.9 L526.1,373.0 L526.2,373.0 L529.1,376.2 L529.7,376.9 L530.0,377.0 L530.5,376.2 L531.2,375.5 L534.0,374.8 L534.6,375.4 L534.7,375.7 L535.0,375.8 L536.1,377.0 L539.7,381.3 L540.0,381.5 L541.5,383.0 L542.3,383.1 L543.4,381.1 L544.5,379.7 L547.2,376.3 L547.6,376.2 L548.1,376.1 L550.6,377.7 L552.1,378.5 L552.7,379.1 L553.6,379.5 L556.2,380.0 L556.5,379.6 L556.7,379.6 L557.9,379.4 L559.7,378.6 L561.1,377.6 L563.6,378.4 L564.2,378.8 L564.9,379.7 L567.7,381.3 L568.8,381.0 L569.5,380.2 L570.3,380.0 L572.0,379.5 L574.2,379.2 L574.8,379.6 L576.4,381.6 L577.9,382.4 L578.3,383.1 L581.5,387.0 L582.4,386.4 L585.4,381.9 L586.3,380.6 L588.5,377.6 L588.9,377.6 L590.5,378.8 L590.6,379.0 L594.5,384.7 L595.1,385.0 L595.4,385.3 L599.5,380.4 L600.6,379.9 L603.6,380.7 L604.0,380.9 L605.0,380.8 L605.2,380.8 L606.7,381.7 L607.7,381.4 L608.1,381.0 L611.2,379.5 L612.7,378.3 L613.0,378.2 L616.0,377.2 L616.2,377.2 L616.5,376.9 L619.8,378.0 L620.0,377.9 L620.5,377.8 L620.8,377.8 L625.0,379.9 L626.3,380.8 L626.5,381.0 L627.0,381.4 L628.2,382.7 L629.3,384.1 L629.8,384.9 L630.1,384.4 L630.5,383.8 L631.2,383.7 L632.8,382.9 L632.9,382.7 L633.6,381.6 L635.0,380.8 L637.3,379.5 L637.8,379.3 L638.6,379.6 L640.0,381.3 L642.1,383.8 L642.7,384.1 L642.9,384.0 L643.0,383.9 L643.3,383.7 L646.6,381.3 L646.8,381.2 L647.6,381.1 L650.0,381.4 L650.5,381.7 L652.2,382.2 L654.6,382.7 L655.0,383.0 L656.0,382.5 L657.3,382.0 L658.0,382.2 L659.6,382.5 L659.7,382.6 L659.8,382.7 L660.0,382.7 L663.6,382.6 L664.4,382.4 L665.5,382.5 L666.6,382.8 L668.1,381.9 L668.3,381.8 L672.0,380.5 L672.4,380.3 L673.7,381.1 L674.6,381.7 L675.0,382.0 L676.5,383.1 L677.1,383.0 L678.3,382.1 L680.2,380.9 L680.4,380.8 L684.0,381.3 L685.3,381.6 L685.4,381.7 L686.8,382.2 L687.7,382.5 L688.2,382.7 L688.8,382.8 L690.0,382.3 L690.6,382.1 L691.4,381.8 L694.6,380.8 L695.0,380.7 L697.0,380.9 L698.0,381.0 L700.4,383.1 L701.6,384.0 L702.0,384.0 L706.2,385.6 L706.3,385.6 L706.4,385.6 L706.7,385.0 L709.7,382.8 L710.1,382.6 L710.5,382.5 L710.9,382.4 L712.0,380.6 L714.7,379.5 L714.9,379.4 L716.2,379.6 L717.5,381.7 L719.1,384.4 L719.4,385.2 L719.8,386.2 L720.3,387.4 L723.1,387.9 L723.7,388.1 L725.0,387.1 L726.0,386.4 L726.9,385.9 L728.0,385.3" stroke="#fad232" stroke-width="1.7"/>
<path d="M51.3,238.0 L53.5,221.8 L54.7,212.9 L55.0,215.7 L55.5,220.2 L58.0,243.2 L59.0,252.4 L59.3,255.2 L59.5,257.0 L59.7,256.2 L59.8,255.7 L63.0,242.2 L63.2,241.4 L63.4,240.5 L64.0,238.0 L67.0,236.9 L67.5,236.7 L68.0,233.0 L68.2,231.6 L68.7,227.9 L71.0,211.1 L71.7,205.9 L72.0,203.7 L72.4,200.8 L73.3,210.6 L76.0,240.0 L77.0,230.9 L79.0,212.8 L80.0,203.7 L80.3,201.0 L81.0,208.7 L82.0,219.8 L85.0,253.0 L86.0,253.0 L86.4,253.0 L86.8,253.0 L87.0,253.0 L88.5,253.0 L89.0,252.2 L92.0,247.6 L93.0,246.0 L93.2,244.8 L95.0,233.9 L95.5,230.9 L100.0,203.6 L102.5,188.5 L106.0,204.7 L107.1,209.8 L108.0,214.0 L108.3,215.4 L110.8,227.0 L111.8,231.6 L114.1,227.0 L115.0,235.1 L115.3,237.8 L116.0,244.1 L116.2,245.8 L117.0,253.0 L117.6,258.4 L118.0,262.0 L121.0,297.4 L122.0,309.1 L124.0,332.7 L124.3,332.5 L124.6,332.4 L125.8,331.7 L127.0,331.0 L127.8,324.1 L128.1,321.5 L128.2,320.6 L130.0,305.0 L131.0,296.2 L131.3,293.6 L133.0,278.8 L134.0,270.0 L134.8,262.0 L136.0,250.0 L137.0,240.0 L137.1,239.1 L138.5,226.7 L139.0,222.2 L140.6,208.0 L140.9,205.3 L141.1,205.3 L141.5,205.4 L142.3,205.5 L143.5,205.7 L143.6,205.7 L144.1,205.7 L144.6,205.8 L146.5,220.6 L147.0,224.5 L148.8,238.4 L149.0,240.0 L150.0,248.8 L152.0,266.2 L152.3,268.9 L153.0,275.0 L155.0,284.6 L155.8,288.5 L158.1,299.5 L159.0,303.9 L159.8,307.7 L160.3,308.0 L162.8,309.3 L162.9,309.3 L163.0,309.4 L163.3,309.2 L166.7,306.4 L167.4,305.9 L168.6,304.9 L170.0,303.8 L171.0,303.0 L171.2,302.8 L172.0,295.6 L173.3,283.8 L175.2,266.6 L176.5,254.8 L179.1,231.2 L179.7,225.8 L181.5,239.9 L185.8,273.4 L186.0,275.0 L187.0,281.9 L187.8,287.4 L192.4,319.2 L193.3,319.2 L194.0,319.2 L194.8,319.2 L196.0,319.2 L196.4,319.2 L197.3,319.2 L198.5,313.0 L200.0,305.2 L201.5,297.4 L202.0,294.8 L202.4,292.7 L202.6,291.6 L204.7,280.7 L205.0,279.2 L205.5,276.6 L206.8,269.8 L207.0,268.8 L207.2,267.7 L208.5,261.0 L208.9,258.9 L209.0,258.4 L209.3,256.8 L210.5,259.4 L210.8,260.0 L211.0,260.5 L211.8,262.2 L212.5,263.7 L213.0,264.8 L214.0,271.1 L215.2,278.6 L216.0,283.7 L217.3,291.8 L218.2,297.5 L220.6,312.6 L221.4,317.6 L222.0,321.4 L222.1,322.0 L222.3,321.6 L226.7,311.7 L228.0,308.8 L229.0,306.6 L229.5,305.5 L230.0,302.8 L231.2,296.2 L232.0,291.8 L233.0,286.3 L234.5,278.1 L234.8,276.5 L235.0,275.4 L235.6,272.1 L235.8,272.0 L236.0,271.9 L237.2,271.3 L237.5,271.2 L238.5,270.7 L238.6,270.6 L239.5,274.1 L240.0,276.0 L240.3,277.2 L241.0,279.9 L242.0,283.7 L244.1,291.8 L245.0,295.3 L246.6,301.5 L247.1,303.4 L247.7,305.7 L248.0,306.9 L248.6,309.2 L249.2,311.5 L252.0,311.5 L253.0,311.5 L253.2,311.5 L253.8,311.5 L255.0,309.1 L257.0,305.1 L259.2,300.7 L261.4,296.3 L262.9,293.3 L263.8,291.5 L264.4,290.3 L265.3,291.4 L266.8,293.3 L273.0,320.0 L273.5,322.1 L273.8,321.3 L274.4,319.6 L279.0,306.7 L285.0,290.0 L286.5,285.8 L288.0,291.6 L295.6,321.1 L298.6,332.7 L304.7,313.5 L306.0,309.4 L307.7,304.0 L309.2,306.1 L310.0,307.2 L310.8,308.3 L312.0,310.0 L313.0,312.3 L315.0,316.8 L316.0,319.0 L317.0,321.3 L319.1,326.0 L319.8,327.6 L320.6,326.5 L322.1,324.3 L325.0,320.2 L326.7,317.7 L329.6,313.6 L329.7,313.8 L331.2,316.6 L332.7,319.4 L334.2,322.2 L337.3,328.0 L337.9,329.1 L338.8,330.8 L339.4,331.9 L340.3,333.6 L340.8,334.5 L341.8,332.3 L343.3,328.9 L346.4,322.0 L347.9,323.3 L349.4,324.6 L352.4,327.2 L353.9,328.5 L354.8,329.3 L355.5,329.9 L357.6,331.7 L358.5,331.4 L360.0,330.8 L361.5,327.5 L364.0,322.0 L364.5,321.1 L367.5,315.9 L367.6,316.1 L368.4,317.9 L369.1,319.5 L370.6,322.9 L372.0,326.0 L372.1,326.2 L373.6,328.8 L376.7,334.3 L376.8,334.5 L380.0,333.3 L384.0,331.8 L384.2,331.7 L384.3,331.7 L384.9,332.5 L385.8,333.8 L388.2,337.2 L388.9,338.2 L389.8,336.8 L391.4,334.3 L393.6,330.8 L395.4,332.6 L396.3,333.5 L398.0,335.2 L398.2,335.4 L402.8,332.9 L402.9,332.8 L404.5,331.9 L406.1,331.1 L406.6,330.8 L407.7,332.8 L410.4,337.5 L411.0,338.6 L412.6,341.4 L415.0,345.7 L415.9,344.3 L416.0,344.1 L419.2,339.0 L419.7,338.2 L420.8,339.7 L424.4,344.8 L425.7,344.9 L427.3,345.1 L428.9,345.2 L430.0,345.3 L430.6,344.9 L432.2,343.9 L434.6,342.4 L435.5,341.8 L436.5,341.2 L437.1,341.8 L440.2,344.9 L440.4,345.0 L443.6,348.2 L443.9,348.5 L445.3,347.9 L448.5,346.5 L449.6,346.0 L450.1,346.0 L453.4,346.1 L453.7,346.1 L455.0,349.4 L456.0,351.9 L457.7,356.3 L458.3,357.8 L458.5,358.3 L460.0,355.6 L460.6,354.6 L461.0,353.8 L462.6,351.0 L466.5,355.8 L466.7,356.0 L467.6,357.6 L469.0,360.0 L470.6,362.8 L470.8,363.2 L473.6,363.2 L474.0,363.2 L474.6,363.2 L474.9,363.2 L478.2,358.3 L478.8,357.4 L479.7,356.0 L479.8,355.9 L480.2,355.9 L484.2,355.9 L484.4,355.9 L485.5,355.9 L485.8,356.1 L488.6,358.2 L488.8,358.4 L490.0,359.3 L491.4,360.3 L491.8,360.6 L492.0,360.8 L495.6,362.1 L496.4,362.4 L497.0,362.6 L498.5,363.2 L500.9,365.3 L501.8,366.1 L502.6,366.9 L505.0,369.0 L505.3,368.8 L505.5,368.6 L508.5,366.1 L509.5,365.3 L510.0,364.9 L513.7,371.1 L513.9,371.4 L514.8,372.9 L516.0,374.9 L516.5,375.8 L517.3,377.1 L518.0,375.7 L519.1,373.5 L519.3,373.1 L521.4,368.9 L522.1,367.5 L522.2,367.3 L523.5,367.0 L525.0,366.7 L526.0,366.5 L526.1,366.5 L526.2,366.5 L529.1,370.9 L529.7,371.8 L530.0,372.2 L530.5,371.7 L531.2,371.0 L534.0,368.2 L534.6,367.6 L534.7,367.7 L535.0,368.2 L536.1,369.8 L539.7,375.2 L540.0,375.6 L541.5,377.8 L542.3,379.0 L543.4,377.3 L544.5,375.7 L547.2,371.6 L547.6,371.6 L548.1,371.6 L550.6,371.6 L552.1,371.6 L552.7,372.3 L553.6,373.4 L556.2,376.5 L556.5,376.3 L556.7,376.1 L557.9,375.2 L559.7,373.9 L561.1,372.8 L563.6,374.8 L564.2,375.3 L564.9,375.9 L567.7,378.2 L568.8,377.5 L569.5,377.0 L570.3,376.4 L572.0,375.3 L574.2,373.8 L574.8,374.4 L576.4,375.8 L577.9,377.2 L578.3,377.6 L581.5,380.6 L582.4,379.7 L585.4,376.7 L586.3,375.8 L588.5,373.6 L588.9,373.2 L590.5,371.6 L590.6,371.8 L594.5,377.6 L595.1,378.5 L595.4,379.0 L599.5,372.8 L600.6,372.8 L603.6,372.8 L604.0,373.2 L605.0,374.1 L605.2,374.2 L606.7,375.6 L607.7,376.5 L608.1,376.3 L611.2,374.6 L612.7,373.7 L613.0,373.5 L616.0,371.9 L616.2,371.8 L616.5,371.6 L619.8,374.4 L620.0,374.4 L620.5,374.4 L620.8,374.4 L625.0,374.4 L626.3,374.4 L626.5,374.4 L627.0,374.3 L628.2,374.2 L629.3,374.1 L629.8,374.1 L630.1,374.1 L630.5,374.0 L631.2,374.0 L632.8,373.8 L632.9,373.8 L633.6,373.7 L635.0,373.6 L637.3,373.4 L637.8,373.3 L638.6,374.1 L640.0,375.5 L642.1,377.6 L642.7,378.2 L642.9,378.1 L643.0,378.0 L643.3,377.9 L646.6,376.0 L646.8,375.8 L647.6,375.4 L650.0,374.0 L650.5,374.1 L652.2,374.5 L654.6,375.1 L655.0,375.2 L656.0,375.4 L657.3,375.7 L658.0,376.6 L659.6,378.7 L659.7,378.9 L659.8,379.0 L660.0,378.9 L663.6,376.8 L664.4,376.3 L665.5,375.7 L666.6,375.8 L668.1,375.8 L668.3,375.9 L672.0,376.1 L672.4,376.1 L673.7,376.1 L674.6,376.2 L675.0,376.2 L676.5,376.3 L677.1,376.3 L678.3,376.4 L680.2,376.5 L680.4,376.5 L684.0,377.0 L685.3,377.1 L685.4,377.1 L686.8,377.3 L687.7,377.4 L688.2,377.5 L688.8,377.3 L690.0,377.0 L690.6,376.9 L691.4,376.7 L694.6,375.9 L695.0,375.8 L697.0,375.3 L698.0,375.0 L700.4,377.0 L701.6,378.0 L702.0,378.3 L706.2,381.8 L706.3,381.9 L706.4,382.0 L706.7,381.6 L709.7,377.5 L710.1,376.9 L710.5,376.4 L710.9,375.8 L712.0,374.3 L714.7,374.8 L714.9,374.8 L716.2,375.0 L717.5,377.9 L719.1,381.4 L719.4,382.0 L719.8,382.9 L720.3,384.0 L723.1,383.0 L723.7,382.8 L725.0,382.4 L726.0,382.0 L726.9,382.0 L728.0,382.0" stroke="#3200e6" stroke-width="1.7"/>
<path d="M51.3,252.0 L53.5,238.0 L56.0,272.0 L59.5,318.0 L62.0,292.0 L64.5,262.0 L67.0,250.0 L70.0,246.0 L73.0,196.0 L75.5,230.0 L78.0,198.0 L80.5,224.0 L82.6,174.0 L84.5,205.0 L86.5,232.0 L89.0,240.0 L93.2,247.0 L96.0,245.0 L102.5,230.5 L108.3,248.0 L111.8,262.0 L114.5,259.5 L119.0,290.0 L124.4,326.0 L126.8,325.7 L129.0,322.0 L134.0,285.0 L139.0,250.0 L141.8,242.4 L144.0,246.0 L148.5,267.9 L156.5,312.0 L159.8,327.0 L164.7,316.0 L168.8,323.0 L172.0,305.0 L179.7,260.3 L185.0,295.0 L190.0,325.0 L194.0,339.0 L198.0,333.0 L202.0,310.0 L208.5,286.0 L215.0,315.0 L222.0,345.0 L228.0,320.0 L233.0,296.0 L238.0,289.0 L242.0,305.0 L247.7,335.8 L253.0,331.0 L262.3,313.0 L266.0,318.0 L272.9,341.8 L286.5,305.5 L298.6,344.8 L307.7,317.6 L311.0,324.0 L317.0,352.7 L329.6,327.6 L340.8,351.3 L346.4,333.0 L356.2,348.5 L367.3,326.0 L375.7,354.0 L384.1,343.0 L389.7,354.8 L394.3,350.0 L400.2,351.3 L404.8,343.1 L413.0,354.8 L418.8,346.6 L427.0,358.3 L430.0,356.7 L436.5,352.6 L440.0,354.6 L441.9,358.3 L443.9,359.2 L445.6,358.5 L447.4,352.8 L449.6,351.8 L451.1,353.2 L453.0,359.7 L454.8,360.9 L456.7,366.8 L457.7,367.3 L460.4,365.0 L462.6,359.2 L464.1,363.4 L465.9,362.3 L467.8,367.9 L469.2,369.0 L471.5,372.6 L474.0,372.2 L475.2,371.6 L477.0,364.4 L478.9,363.0 L479.8,359.2 L480.7,360.1 L482.6,365.7 L484.4,367.1 L485.5,370.6 L488.1,369.5 L490.0,372.5 L491.8,368.6 L493.7,371.9 L495.3,370.6 L497.4,373.4 L499.2,372.5 L501.8,375.5 L502.9,373.4 L504.8,374.4 L506.6,369.0 L508.5,369.8 L510.0,367.3 L512.2,372.7 L514.0,373.1 L515.9,379.8 L517.3,380.4 L519.6,378.5 L522.2,372.2 L523.3,374.6 L525.1,372.7 L526.0,375.0 L527.0,378.0 L528.8,375.5 L530.0,378.8 L532.5,373.9 L534.6,372.2 L536.2,373.6 L538.1,379.8 L540.7,382.2 L541.8,382.5 L543.6,378.9 L545.5,380.0 L548.1,377.3 L549.2,379.7 L551.0,379.3 L552.9,383.4 L554.6,383.9 L556.6,383.9 L558.4,378.0 L559.5,379.0 L562.1,380.4 L564.0,386.3 L565.2,386.3 L567.7,386.1 L569.5,381.5 L571.4,382.5 L573.4,379.8 L575.1,382.6 L576.9,380.8 L578.8,385.1 L580.6,384.7 L581.5,386.3 L582.5,387.4 L584.3,382.6 L586.2,384.0 L588.0,378.7 L588.9,379.8 L589.9,382.5 L591.7,380.2 L593.6,384.1 L595.4,383.9 L597.3,384.7 L599.1,379.7 L601.0,382.1 L602.8,377.3 L604.4,378.2 L606.5,378.3 L608.4,383.8 L610.9,383.9 L612.1,384.1 L614.0,381.0 L615.8,382.4 L618.0,380.0 L619.5,383.9 L622.0,385.0 L623.2,385.2 L625.0,380.3 L626.0,381.0 L626.9,383.0 L628.7,381.5 L630.0,384.0 L632.4,380.6 L634.0,380.0 L636.1,381.7 L638.0,385.0 L639.8,381.3 L642.0,381.0 L643.5,381.4 L646.0,386.0 L647.2,383.1 L649.1,384.8 L650.0,382.0 L650.9,381.2 L652.8,385.4 L654.0,385.0 L656.5,383.7 L658.0,381.0 L660.2,385.6 L662.0,386.0 L663.9,386.1 L666.0,382.0 L667.6,385.0 L670.0,385.0 L671.3,386.1 L673.1,380.9 L674.0,382.0 L675.0,384.7 L676.8,383.7 L678.0,386.0 L680.5,382.2 L682.0,383.0 L684.2,383.3 L686.0,386.0 L687.9,383.1 L690.0,383.0 L691.6,383.3 L694.0,387.0 L695.3,384.4 L697.2,386.4 L698.0,384.0 L699.0,383.1 L700.9,387.4 L702.0,387.0 L704.6,389.3 L706.4,389.0 L708.3,388.4 L710.0,384.0 L712.0,383.9 L713.8,379.8 L714.8,380.6 L715.7,383.7 L717.0,386.0 L719.4,389.4 L720.3,389.0 L721.2,386.8 L723.1,386.6 L724.0,384.0 L724.9,382.6 L726.8,387.5 L728.0,386.0" stroke="#000" stroke-width="1.6" stroke-dasharray="8.8,1.9,1.6,2.1"/>
<path d="M51.3,300.0 L55.0,280.0 L59.0,262.0 L63.0,255.0 L67.0,270.0 L71.0,290.0 L76.0,300.0 L81.0,290.0 L87.0,275.0 L93.2,234.0 L100.0,250.0 L108.0,250.0 L116.0,280.0 L127.8,328.0 L134.0,270.0 L143.6,236.7 L152.0,275.0 L162.9,324.0 L172.0,270.0 L181.5,241.0 L187.0,275.0 L194.0,308.5 L200.0,265.0 L208.5,233.0 L214.0,270.0 L222.0,355.0 L228.0,250.0 L234.8,223.8 L240.0,250.0 L248.0,310.0 L253.0,285.0 L261.4,230.8 L273.0,307.5 L286.5,225.5 L298.6,280.0 L310.8,233.0 L316.0,284.5 L326.7,233.0 L331.2,237.6 L337.3,277.0 L346.4,225.5 L358.5,266.4 L367.6,234.5 L372.1,239.0 L376.7,271.0 L380.0,235.0 L384.9,218.1 L398.0,255.6 L406.1,231.1 L411.0,255.6 L419.2,223.0 L425.7,244.2 L432.2,242.6 L437.1,234.4 L440.4,255.6 L448.5,227.9 L455.0,242.6 L460.6,244.3 L466.5,235.0 L469.0,229.0 L474.6,254.1 L480.2,224.8 L488.6,250.0 L497.0,230.3 L505.3,243.0 L509.5,216.4 L513.7,269.5 L518.0,269.5 L522.1,241.5 L525.0,244.3 L530.5,266.7 L534.7,230.3 L540.0,270.0 L547.6,235.2 L553.6,270.0 L559.7,248.8 L564.2,251.8 L568.8,267.0 L576.4,239.7 L582.4,305.0 L588.5,242.7 L594.5,280.6 L600.6,236.7 L605.2,260.9 L611.2,245.8 L616.0,262.0 L620.5,279.7 L625.0,250.0 L629.8,214.0 L633.6,268.5 L637.3,264.8 L642.9,253.6 L647.6,262.9 L652.2,257.3 L659.7,254.5 L664.4,264.8 L668.1,259.2 L673.7,257.3 L676.5,248.0 L680.2,282.0 L686.8,271.3 L691.4,274.1 L698.0,279.7 L706.3,263.8 L710.1,274.1 L714.7,263.8 L719.4,274.1 L726.9,260.1 L728.0,260.0" stroke="#00f0f8" stroke-width="1.1" stroke-dasharray="3.6,1.6"/>
<path d="M51.3,262.0 L55.0,250.0 L59.0,240.0 L63.4,227.3 L68.0,240.0 L72.0,262.0 L76.0,270.0 L81.0,262.0 L87.0,252.0 L95.0,246.0 L100.0,244.0 L108.3,235.1 L117.0,262.0 L125.8,278.2 L133.0,245.0 L142.3,213.0 L152.0,250.0 L163.3,291.0 L171.0,250.0 L179.7,207.3 L186.0,245.0 L193.3,280.0 L200.0,240.0 L205.0,205.0 L207.0,197.0 L208.9,195.6 L210.8,198.0 L214.0,235.0 L220.6,271.0 L230.0,215.0 L233.0,195.0 L235.0,190.3 L237.5,194.0 L241.0,215.0 L248.6,257.3 L255.0,220.0 L263.8,186.0 L274.4,252.7 L286.5,192.1 L298.6,242.1 L310.0,187.6 L319.1,234.5 L325.0,196.7 L331.2,193.6 L338.8,230.0 L349.4,192.0 L358.5,225.5 L370.6,198.2 L376.7,213.3 L380.0,198.5 L384.2,190.6 L388.2,185.5 L398.0,224.6 L404.5,195.3 L412.6,223.0 L420.8,196.9 L430.6,221.4 L437.1,200.1 L445.3,232.8 L453.4,210.0 L460.6,210.8 L466.5,206.0 L467.6,205.2 L474.6,233.1 L478.8,191.2 L484.4,222.0 L490.0,219.2 L495.6,215.0 L502.6,224.8 L509.5,196.8 L513.7,236.0 L519.3,234.5 L523.5,213.6 L530.5,245.7 L536.1,213.6 L540.0,235.2 L547.6,215.5 L553.6,230.6 L564.2,210.9 L570.3,260.9 L576.4,209.4 L582.4,282.0 L588.5,215.5 L594.5,264.0 L600.6,218.5 L606.7,254.8 L613.0,230.0 L620.0,243.2 L626.5,215.3 L629.3,222.3 L632.8,258.0 L638.6,238.6 L646.6,237.7 L656.0,246.1 L659.6,224.6 L666.6,241.0 L672.4,229.3 L674.6,227.5 L680.2,238.7 L687.7,235.9 L697.0,244.3 L706.3,230.3 L712.0,244.3 L717.5,234.9 L723.1,249.9 L728.0,240.0" stroke="#00ff33" stroke-width="1.1" stroke-dasharray="3.6,1.6"/>
<path d="M51.3,230.0 L54.7,223.8 L58.0,218.0 L63.2,213.8 L68.0,226.0 L72.0,245.0 L76.0,255.0 L80.0,248.0 L86.0,236.0 L95.5,228.0 L100.0,232.0 L107.1,225.8 L115.0,245.0 L124.6,257.3 L133.0,225.0 L141.5,197.5 L150.0,235.0 L160.3,277.6 L170.0,235.0 L179.7,189.5 L187.0,235.0 L194.8,275.5 L202.6,230.0 L205.5,190.0 L207.2,180.0 L208.9,177.7 L210.5,180.0 L211.8,190.0 L217.3,230.0 L220.6,252.7 L229.0,222.0 L232.0,190.0 L234.5,181.0 L237.2,178.8 L239.5,181.0 L241.0,186.0 L245.0,215.0 L248.6,236.0 L257.0,200.0 L265.3,167.9 L274.4,230.0 L288.0,177.0 L298.6,222.4 L309.2,170.9 L315.0,186.0 L320.6,211.8 L334.2,170.9 L340.3,216.4 L352.4,161.8 L358.5,208.8 L373.6,170.9 L380.0,195.0 L384.0,180.0 L389.8,165.9 L396.3,216.0 L402.8,187.1 L412.6,208.3 L420.8,187.1 L428.9,205.0 L435.5,183.8 L445.3,218.1 L450.1,195.3 L456.0,203.0 L461.0,192.0 L466.5,200.0 L474.6,222.0 L480.2,185.6 L485.8,205.2 L491.4,203.8 L495.6,194.0 L502.6,213.6 L509.5,194.0 L516.5,222.0 L522.1,189.8 L529.1,226.2 L536.1,205.2 L540.0,206.4 L544.5,200.3 L550.6,215.5 L556.7,224.5 L564.2,198.8 L570.3,251.8 L576.4,195.8 L582.4,270.0 L588.5,198.8 L594.5,254.8 L600.6,209.4 L605.2,239.7 L612.7,212.4 L620.0,226.9 L628.2,212.9 L632.8,238.6 L638.6,220.0 L643.3,229.3 L646.8,217.6 L655.0,232.7 L659.6,206.0 L666.6,224.6 L672.4,207.1 L678.3,224.6 L685.3,211.8 L690.0,225.8 L694.6,215.3 L700.4,223.4 L706.2,200.1 L709.7,212.9 L719.1,201.3 L723.7,216.4 L728.0,208.0" stroke="#ff00ff" stroke-width="1.1" stroke-dasharray="3.6,1.6"/>
<path d="M51.3,218.0 L55.0,200.0 L59.3,186.8 L63.0,200.0 L68.7,224.0 L72.0,242.0 L76.0,252.0 L80.0,246.0 L85.0,236.0 L89.0,232.0 L93.2,223.5 L106.0,200.2 L117.6,252.6 L122.0,258.0 L128.1,261.9 L134.8,210.0 L137.1,193.6 L139.0,186.0 L141.1,182.0 L143.5,186.0 L146.5,203.0 L150.0,224.0 L155.8,264.0 L163.0,255.0 L167.4,238.0 L173.3,190.0 L176.5,176.0 L179.1,170.4 L185.8,198.0 L196.4,245.0 L201.5,230.0 L204.7,182.0 L206.8,163.0 L208.9,157.8 L211.0,162.0 L215.2,182.0 L221.4,215.5 L232.0,182.0 L236.0,163.0 L238.5,156.0 L240.3,154.7 L242.0,158.0 L246.6,203.0 L257.0,175.0 L265.3,148.2 L274.4,201.2 L285.0,170.9 L298.6,199.7 L306.0,175.0 L313.0,143.6 L320.6,189.0 L332.7,154.2 L341.8,180.0 L353.9,145.2 L361.5,184.5 L369.1,170.9 L380.0,180.6 L384.0,165.0 L389.8,144.7 L396.3,203.0 L402.8,174.0 L407.7,183.8 L419.2,170.8 L425.7,193.6 L435.5,165.9 L445.3,200.1 L450.1,178.9 L458.3,183.8 L466.5,175.7 L473.6,192.4 L479.7,178.8 L488.8,194.0 L496.4,178.8 L505.5,194.0 L510.0,186.4 L516.0,197.0 L522.1,172.7 L529.7,204.5 L540.0,192.7 L547.6,185.2 L553.6,201.8 L564.2,173.0 L568.8,203.3 L574.8,177.6 L577.9,179.1 L582.4,230.6 L588.5,177.6 L594.5,230.6 L600.6,186.7 L606.7,215.5 L612.7,192.7 L620.0,197.3 L627.0,196.6 L630.5,200.1 L632.8,217.6 L638.6,195.5 L642.1,207.1 L646.8,189.6 L655.0,212.9 L659.6,183.8 L666.6,210.6 L672.4,181.5 L677.1,203.6 L685.3,185.0 L688.8,196.6 L694.6,187.3 L701.6,195.5 L706.7,161.7 L710.9,208.3 L719.1,171.0 L723.7,210.6 L728.0,185.0" stroke="#fad232" stroke-width="1.1" stroke-dasharray="3.6,1.6"/>
<path d="M51.3,145.0 L55.0,149.3 L59.8,66.2 L64.0,108.0 L68.2,150.0 L71.7,193.6 L77.0,238.0 L81.0,234.0 L86.8,220.4 L95.5,186.0 L100.0,170.0 L110.8,134.2 L116.2,163.3 L124.3,227.4 L131.3,203.0 L137.1,177.3 L140.6,162.1 L144.1,155.2 L148.8,152.8 L152.3,155.2 L158.1,170.3 L162.8,180.8 L168.6,175.0 L173.3,165.6 L175.2,158.2 L179.7,152.1 L187.8,131.0 L193.3,156.7 L196.4,162.7 L202.4,159.7 L207.0,161.2 L218.2,112.7 L220.6,118.8 L226.7,158.2 L231.2,155.2 L235.8,162.7 L239.5,152.7 L244.1,122.4 L247.1,127.0 L253.2,151.2 L259.2,158.8 L265.3,149.7 L273.8,117.9 L279.0,155.8 L286.5,167.9 L295.6,140.6 L298.6,140.6 L304.7,160.3 L307.7,161.8 L316.0,116.4 L322.1,145.2 L329.7,163.3 L337.9,140.6 L343.3,158.8 L347.9,161.8 L355.5,136.0 L364.5,160.3 L369.1,166.4 L376.7,140.6 L380.0,162.6 L385.8,164.8 L391.4,144.7 L398.0,156.1 L404.5,157.7 L411.0,151.2 L415.9,167.5 L427.3,148.0 L432.2,164.3 L437.1,154.5 L443.6,156.1 L450.1,170.8 L455.0,154.5 L460.0,157.7 L466.5,165.9 L470.6,153.0 L478.2,172.7 L484.2,151.5 L488.8,163.6 L491.8,162.1 L496.4,151.5 L500.9,165.2 L508.5,171.2 L513.9,128.8 L519.1,159.1 L522.1,157.6 L526.1,142.4 L531.2,168.2 L535.0,157.8 L539.7,125.2 L543.4,156.9 L548.1,156.9 L552.7,132.6 L556.5,165.3 L564.9,124.3 L569.5,166.2 L574.2,140.1 L578.3,129.9 L585.4,149.4 L586.3,150.4 L590.6,136.4 L595.1,163.4 L604.0,130.8 L608.1,164.4 L616.2,141.0 L620.8,159.7 L630.1,141.0 L635.0,142.6 L640.0,143.9 L643.0,143.5 L650.5,133.2 L654.6,150.0 L658.0,136.0 L663.6,132.3 L668.3,151.0 L672.0,142.6 L675.0,141.6 L680.4,150.0 L685.4,133.2 L690.6,144.4 L695.0,144.4 L702.0,135.1 L706.2,110.0 L710.5,137.9 L714.9,156.6 L719.8,127.6 L725.0,132.3 L728.0,133.2" stroke="#3200e6" stroke-width="1.1" stroke-dasharray="3.6,1.6"/>
</g>
<line x1="51.3" x2="728.0" y1="206.45" y2="206.45" stroke="#555" stroke-width="1"/>
<line x1="51" x2="728.8" y1="10.5" y2="10.5" stroke="#8a8a8a" stroke-width="1"/>
<line x1="51" x2="728.8" y1="402.5" y2="402.5" stroke="#7a7a7a" stroke-width="1"/>
<line x1="51.5" x2="51.5" y1="10" y2="403" stroke="#444" stroke-width="1"/>
<line x1="728.3" x2="728.3" y1="10" y2="403" stroke="#6a6a6a" stroke-width="1"/>
<line x1="85.60" x2="85.60" y1="402.4" y2="398.9" stroke="#333" stroke-width="0.9"/>
<text x="85.60" y="411.8" text-anchor="middle" class="tk">125</text>
<line x1="178.02" x2="178.02" y1="402.4" y2="398.9" stroke="#333" stroke-width="0.9"/>
<text x="178.02" y="411.8" text-anchor="middle" class="tk">150</text>
<line x1="270.45" x2="270.45" y1="402.4" y2="398.9" stroke="#333" stroke-width="0.9"/>
<text x="270.45" y="411.8" text-anchor="middle" class="tk">175</text>
<line x1="362.88" x2="362.88" y1="402.4" y2="398.9" stroke="#333" stroke-width="0.9"/>
<text x="362.88" y="411.8" text-anchor="middle" class="tk">200</text>
<line x1="455.30" x2="455.30" y1="402.4" y2="398.9" stroke="#333" stroke-width="0.9"/>
<text x="455.30" y="411.8" text-anchor="middle" class="tk">225</text>
<line x1="547.73" x2="547.73" y1="402.4" y2="398.9" stroke="#333" stroke-width="0.9"/>
<text x="547.73" y="411.8" text-anchor="middle" class="tk">250</text>
<line x1="640.15" x2="640.15" y1="402.4" y2="398.9" stroke="#333" stroke-width="0.9"/>
<text x="640.15" y="411.8" text-anchor="middle" class="tk">275</text>
<line x1="67.11" x2="67.11" y1="402.4" y2="400.4" stroke="#333" stroke-width="0.7"/>
<line x1="104.08" x2="104.08" y1="402.4" y2="400.4" stroke="#333" stroke-width="0.7"/>
<line x1="122.57" x2="122.57" y1="402.4" y2="400.4" stroke="#333" stroke-width="0.7"/>
<line x1="141.06" x2="141.06" y1="402.4" y2="400.4" stroke="#333" stroke-width="0.7"/>
<line x1="159.54" x2="159.54" y1="402.4" y2="400.4" stroke="#333" stroke-width="0.7"/>
<line x1="196.51" x2="196.51" y1="402.4" y2="400.4" stroke="#333" stroke-width="0.7"/>
<line x1="215.00" x2="215.00" y1="402.4" y2="400.4" stroke="#333" stroke-width="0.7"/>
<line x1="233.48" x2="233.48" y1="402.4" y2="400.4" stroke="#333" stroke-width="0.7"/>
<line x1="251.97" x2="251.97" y1="402.4" y2="400.4" stroke="#333" stroke-width="0.7"/>
<line x1="288.94" x2="288.94" y1="402.4" y2="400.4" stroke="#333" stroke-width="0.7"/>
<line x1="307.42" x2="307.42" y1="402.4" y2="400.4" stroke="#333" stroke-width="0.7"/>
<line x1="325.90" x2="325.90" y1="402.4" y2="400.4" stroke="#333" stroke-width="0.7"/>
<line x1="344.39" x2="344.39" y1="402.4" y2="400.4" stroke="#333" stroke-width="0.7"/>
<line x1="381.36" x2="381.36" y1="402.4" y2="400.4" stroke="#333" stroke-width="0.7"/>
<line x1="399.85" x2="399.85" y1="402.4" y2="400.4" stroke="#333" stroke-width="0.7"/>
<line x1="418.33" x2="418.33" y1="402.4" y2="400.4" stroke="#333" stroke-width="0.7"/>
<line x1="436.82" x2="436.82" y1="402.4" y2="400.4" stroke="#333" stroke-width="0.7"/>
<line x1="473.78" x2="473.78" y1="402.4" y2="400.4" stroke="#333" stroke-width="0.7"/>
<line x1="492.27" x2="492.27" y1="402.4" y2="400.4" stroke="#333" stroke-width="0.7"/>
<line x1="510.75" x2="510.75" y1="402.4" y2="400.4" stroke="#333" stroke-width="0.7"/>
<line x1="529.24" x2="529.24" y1="402.4" y2="400.4" stroke="#333" stroke-width="0.7"/>
<line x1="566.21" x2="566.21" y1="402.4" y2="400.4" stroke="#333" stroke-width="0.7"/>
<line x1="584.70" x2="584.70" y1="402.4" y2="400.4" stroke="#333" stroke-width="0.7"/>
<line x1="603.18" x2="603.18" y1="402.4" y2="400.4" stroke="#333" stroke-width="0.7"/>
<line x1="621.67" x2="621.67" y1="402.4" y2="400.4" stroke="#333" stroke-width="0.7"/>
<line x1="658.63" x2="658.63" y1="402.4" y2="400.4" stroke="#333" stroke-width="0.7"/>
<line x1="677.12" x2="677.12" y1="402.4" y2="400.4" stroke="#333" stroke-width="0.7"/>
<line x1="695.61" x2="695.61" y1="402.4" y2="400.4" stroke="#333" stroke-width="0.7"/>
<line x1="714.09" x2="714.09" y1="402.4" y2="400.4" stroke="#333" stroke-width="0.7"/>
<line x1="51.3" x2="54.8" y1="402.40" y2="402.40" stroke="#333" stroke-width="0.9"/>
<text x="48.6" y="406.80" text-anchor="end" class="tk">0.00</text>
<line x1="51.3" x2="54.8" y1="353.41" y2="353.41" stroke="#333" stroke-width="0.9"/>
<text x="48.6" y="357.81" text-anchor="end" class="tk">0.25</text>
<line x1="51.3" x2="54.8" y1="304.42" y2="304.42" stroke="#333" stroke-width="0.9"/>
<text x="48.6" y="308.82" text-anchor="end" class="tk">0.50</text>
<line x1="51.3" x2="54.8" y1="255.44" y2="255.44" stroke="#333" stroke-width="0.9"/>
<text x="48.6" y="259.84" text-anchor="end" class="tk">0.75</text>
<line x1="51.3" x2="54.8" y1="206.45" y2="206.45" stroke="#333" stroke-width="0.9"/>
<text x="48.6" y="210.85" text-anchor="end" class="tk">1.00</text>
<line x1="51.3" x2="54.8" y1="157.46" y2="157.46" stroke="#333" stroke-width="0.9"/>
<text x="48.6" y="161.86" text-anchor="end" class="tk">1.25</text>
<line x1="51.3" x2="54.8" y1="108.48" y2="108.48" stroke="#333" stroke-width="0.9"/>
<text x="48.6" y="112.88" text-anchor="end" class="tk">1.50</text>
<line x1="51.3" x2="54.8" y1="59.49" y2="59.49" stroke="#333" stroke-width="0.9"/>
<text x="48.6" y="63.89" text-anchor="end" class="tk">1.75</text>
<line x1="51.3" x2="54.8" y1="10.50" y2="10.50" stroke="#333" stroke-width="0.9"/>
<text x="48.6" y="14.90" text-anchor="end" class="tk">2.00</text>
<line x1="51.3" x2="53.3" y1="382.80" y2="382.80" stroke="#333" stroke-width="0.7"/>
<line x1="51.3" x2="53.3" y1="363.21" y2="363.21" stroke="#333" stroke-width="0.7"/>
<line x1="51.3" x2="53.3" y1="343.61" y2="343.61" stroke="#333" stroke-width="0.7"/>
<line x1="51.3" x2="53.3" y1="324.02" y2="324.02" stroke="#333" stroke-width="0.7"/>
<line x1="51.3" x2="53.3" y1="284.83" y2="284.83" stroke="#333" stroke-width="0.7"/>
<line x1="51.3" x2="53.3" y1="265.24" y2="265.24" stroke="#333" stroke-width="0.7"/>
<line x1="51.3" x2="53.3" y1="245.64" y2="245.64" stroke="#333" stroke-width="0.7"/>
<line x1="51.3" x2="53.3" y1="226.04" y2="226.04" stroke="#333" stroke-width="0.7"/>
<line x1="51.3" x2="53.3" y1="186.85" y2="186.85" stroke="#333" stroke-width="0.7"/>
<line x1="51.3" x2="53.3" y1="167.26" y2="167.26" stroke="#333" stroke-width="0.7"/>
<line x1="51.3" x2="53.3" y1="147.66" y2="147.66" stroke="#333" stroke-width="0.7"/>
<line x1="51.3" x2="53.3" y1="128.07" y2="128.07" stroke="#333" stroke-width="0.7"/>
<line x1="51.3" x2="53.3" y1="88.88" y2="88.88" stroke="#333" stroke-width="0.7"/>
<line x1="51.3" x2="53.3" y1="69.28" y2="69.28" stroke="#333" stroke-width="0.7"/>
<line x1="51.3" x2="53.3" y1="49.69" y2="49.69" stroke="#333" stroke-width="0.7"/>
<line x1="51.3" x2="53.3" y1="30.09" y2="30.09" stroke="#333" stroke-width="0.7"/>
<line x1="728.0" x2="724.5" y1="402.40" y2="402.40" stroke="#333" stroke-width="0.9"/>
<text x="730.6" y="406.80" class="tk rd">−<tspan dx="1.6">100</tspan></text>
<line x1="728.0" x2="724.5" y1="353.41" y2="353.41" stroke="#333" stroke-width="0.9"/>
<text x="730.6" y="357.81" class="tk rd">−<tspan dx="1.6">75</tspan></text>
<line x1="728.0" x2="724.5" y1="304.42" y2="304.42" stroke="#333" stroke-width="0.9"/>
<text x="730.6" y="308.82" class="tk rd">−<tspan dx="1.6">50</tspan></text>
<line x1="728.0" x2="724.5" y1="255.44" y2="255.44" stroke="#333" stroke-width="0.9"/>
<text x="730.6" y="259.84" class="tk rd">−<tspan dx="1.6">25</tspan></text>
<line x1="728.0" x2="724.5" y1="206.45" y2="206.45" stroke="#333" stroke-width="0.9"/>
<text x="730.6" y="210.85" class="tk rd">0</text>
<line x1="728.0" x2="724.5" y1="157.46" y2="157.46" stroke="#333" stroke-width="0.9"/>
<text x="730.6" y="161.86" class="tk rd">25</text>
<line x1="728.0" x2="724.5" y1="108.47" y2="108.47" stroke="#333" stroke-width="0.9"/>
<text x="730.6" y="112.88" class="tk rd">50</text>
<line x1="728.0" x2="724.5" y1="59.49" y2="59.49" stroke="#333" stroke-width="0.9"/>
<text x="730.6" y="63.89" class="tk rd">75</text>
<line x1="728.0" x2="724.5" y1="10.50" y2="10.50" stroke="#333" stroke-width="0.9"/>
<text x="730.6" y="14.90" class="tk rd">100</text>
<text x="379.6" y="423.6" class="lab" font-size="11.5" textLength="21.7" lengthAdjust="spacingAndGlyphs"><tspan font-style="italic">t</tspan> [d]</text>
<text transform="translate(21.6,254.7) rotate(-90)" class="lab" font-size="11.2" textLength="97.9" lengthAdjust="spacingAndGlyphs">−τ<tspan font-size="7" dy="2.5" font-style="italic">z</tspan><tspan dy="-2.5"> [10</tspan><tspan font-size="7" dy="-3.5">45</tspan><tspan dy="3.5"> cm · dyn]</tspan></text>
<text transform="translate(767.3,274.8) rotate(-90)" class="lab rd" font-size="10.9" textLength="137.3" lengthAdjust="spacingAndGlyphs">Percentage Deviation (%)</text>
<g class="lg2">
<rect x="379.4" y="16.5" width="342.90" height="101.10" rx="1.2" ry="1.2" fill="#ffffff" fill-opacity="0.8" stroke="#dcdcdc" stroke-width="1"/>
<line x1="383" x2="406" y1="24.80" y2="24.80" stroke="#1a1a1a" stroke-width="1.6" stroke-dasharray="8.8,1.9,1.6,2.1"/>
<line x1="383" x2="406" y1="41.50" y2="41.50" stroke="#00f0f8" stroke-width="1.8"/>
<line x1="383" x2="406" y1="58.20" y2="58.20" stroke="#00ff33" stroke-width="1.8"/>
<line x1="383" x2="406" y1="74.90" y2="74.90" stroke="#ff00ff" stroke-width="1.8"/>
<line x1="383" x2="406" y1="91.60" y2="91.60" stroke="#fad232" stroke-width="1.8"/>
<line x1="383" x2="406" y1="108.30" y2="108.30" stroke="#3200e6" stroke-width="1.8"/>
<text x="413.80" y="29.00" font-size="11.0" textLength="148.00" lengthAdjust="spacingAndGlyphs">Torque applied by all of gas</text>
<text x="566.30" y="29.00" font-size="11.0" textLength="3.50" lengthAdjust="spacingAndGlyphs">(</text>
<text x="570.30" y="29.00" font-size="11.0" font-style="italic" textLength="5.20" lengthAdjust="spacingAndGlyphs">τ</text>
<text x="575.60" y="31.20" font-size="7.8" font-style="italic" textLength="4.00" lengthAdjust="spacingAndGlyphs">z</text>
<text x="580.80" y="29.00" font-size="11.0" textLength="3.60" lengthAdjust="spacingAndGlyphs">)</text>
<text x="413.80" y="45.70" font-size="11.0" textLength="152.60" lengthAdjust="spacingAndGlyphs">Torque applied by gas inside</text>
<text x="571.40" y="45.70" font-size="11.0" font-style="italic" textLength="6.80" lengthAdjust="spacingAndGlyphs">ρ</text>
<text x="581.00" y="45.40" font-size="11.0" textLength="7.20" lengthAdjust="spacingAndGlyphs">=</text>
<text x="591.20" y="45.70" font-size="11.0" font-style="italic" textLength="6.80" lengthAdjust="spacingAndGlyphs">ρ</text>
<text x="598.20" y="47.70" font-size="7.8" textLength="4.00" lengthAdjust="spacingAndGlyphs">c</text>
<text x="605.00" y="45.40" font-size="11.0" textLength="7.20" lengthAdjust="spacingAndGlyphs">=</text>
<text x="615.70" y="45.70" font-size="11.0" textLength="22.00" lengthAdjust="spacingAndGlyphs">0.01</text>
<text x="639.20" y="45.70" font-size="11.0" font-style="italic" textLength="7.20" lengthAdjust="spacingAndGlyphs">ρ</text>
<text x="647.70" y="47.70" font-size="7.8" textLength="15.00" lengthAdjust="spacingAndGlyphs">max</text>
<text x="663.40" y="45.70" font-size="11.0" textLength="3.50" lengthAdjust="spacingAndGlyphs">(</text>
<text x="667.00" y="45.70" font-size="11.0" font-style="italic" textLength="3.60" lengthAdjust="spacingAndGlyphs">t</text>
<text x="671.20" y="45.70" font-size="11.0" textLength="3.50" lengthAdjust="spacingAndGlyphs">)</text>
<text x="674.80" y="45.70" font-size="11.0" textLength="3.50" lengthAdjust="spacingAndGlyphs">(</text>
<text x="679.20" y="45.70" font-size="11.0" font-style="italic" textLength="5.40" lengthAdjust="spacingAndGlyphs">τ</text>
<text x="685.40" y="47.70" font-size="7.8" textLength="16.40" lengthAdjust="spacingAndGlyphs">0.01</text>
<text x="703.20" y="45.70" font-size="11.0" textLength="3.60" lengthAdjust="spacingAndGlyphs">)</text>
<text x="413.80" y="62.40" font-size="11.0" textLength="152.60" lengthAdjust="spacingAndGlyphs">Torque applied by gas inside</text>
<text x="571.40" y="62.40" font-size="11.0" font-style="italic" textLength="6.80" lengthAdjust="spacingAndGlyphs">ρ</text>
<text x="581.00" y="62.10" font-size="11.0" textLength="7.20" lengthAdjust="spacingAndGlyphs">=</text>
<text x="591.20" y="62.40" font-size="11.0" font-style="italic" textLength="6.80" lengthAdjust="spacingAndGlyphs">ρ</text>
<text x="598.20" y="64.40" font-size="7.8" textLength="4.00" lengthAdjust="spacingAndGlyphs">c</text>
<text x="605.00" y="62.10" font-size="11.0" textLength="7.20" lengthAdjust="spacingAndGlyphs">=</text>
<text x="615.70" y="62.40" font-size="11.0" textLength="29.20" lengthAdjust="spacingAndGlyphs">0.007</text>
<text x="646.30" y="62.40" font-size="11.0" font-style="italic" textLength="7.20" lengthAdjust="spacingAndGlyphs">ρ</text>
<text x="654.10" y="64.40" font-size="7.8" textLength="15.00" lengthAdjust="spacingAndGlyphs">max</text>
<text x="669.60" y="62.40" font-size="11.0" textLength="3.50" lengthAdjust="spacingAndGlyphs">(</text>
<text x="673.30" y="62.40" font-size="11.0" font-style="italic" textLength="3.60" lengthAdjust="spacingAndGlyphs">t</text>
<text x="677.60" y="62.40" font-size="11.0" textLength="3.50" lengthAdjust="spacingAndGlyphs">)</text>
<text x="681.40" y="62.40" font-size="11.0" textLength="3.50" lengthAdjust="spacingAndGlyphs">(</text>
<text x="686.60" y="62.40" font-size="11.0" font-style="italic" textLength="5.40" lengthAdjust="spacingAndGlyphs">τ</text>
<text x="692.50" y="64.40" font-size="7.8" textLength="20.70" lengthAdjust="spacingAndGlyphs">0.007</text>
<text x="714.60" y="62.40" font-size="11.0" textLength="3.60" lengthAdjust="spacingAndGlyphs">)</text>
<text x="413.80" y="79.10" font-size="11.0" textLength="152.60" lengthAdjust="spacingAndGlyphs">Torque applied by gas inside</text>
<text x="571.40" y="79.10" font-size="11.0" font-style="italic" textLength="6.80" lengthAdjust="spacingAndGlyphs">ρ</text>
<text x="581.00" y="78.80" font-size="11.0" textLength="7.20" lengthAdjust="spacingAndGlyphs">=</text>
<text x="591.20" y="79.10" font-size="11.0" font-style="italic" textLength="6.80" lengthAdjust="spacingAndGlyphs">ρ</text>
<text x="598.20" y="81.10" font-size="7.8" textLength="4.00" lengthAdjust="spacingAndGlyphs">c</text>
<text x="605.00" y="78.80" font-size="11.0" textLength="7.20" lengthAdjust="spacingAndGlyphs">=</text>
<text x="615.70" y="79.10" font-size="11.0" textLength="29.20" lengthAdjust="spacingAndGlyphs">0.006</text>
<text x="646.30" y="79.10" font-size="11.0" font-style="italic" textLength="7.20" lengthAdjust="spacingAndGlyphs">ρ</text>
<text x="654.10" y="81.10" font-size="7.8" textLength="15.00" lengthAdjust="spacingAndGlyphs">max</text>
<text x="669.60" y="79.10" font-size="11.0" textLength="3.50" lengthAdjust="spacingAndGlyphs">(</text>
<text x="673.30" y="79.10" font-size="11.0" font-style="italic" textLength="3.60" lengthAdjust="spacingAndGlyphs">t</text>
<text x="677.60" y="79.10" font-size="11.0" textLength="3.50" lengthAdjust="spacingAndGlyphs">)</text>
<text x="681.40" y="79.10" font-size="11.0" textLength="3.50" lengthAdjust="spacingAndGlyphs">(</text>
<text x="686.60" y="79.10" font-size="11.0" font-style="italic" textLength="5.40" lengthAdjust="spacingAndGlyphs">τ</text>
<text x="692.50" y="81.10" font-size="7.8" textLength="20.70" lengthAdjust="spacingAndGlyphs">0.006</text>
<text x="714.60" y="79.10" font-size="11.0" textLength="3.60" lengthAdjust="spacingAndGlyphs">)</text>
<text x="413.80" y="95.80" font-size="11.0" textLength="152.60" lengthAdjust="spacingAndGlyphs">Torque applied by gas inside</text>
<text x="571.40" y="95.80" font-size="11.0" font-style="italic" textLength="6.80" lengthAdjust="spacingAndGlyphs">ρ</text>
<text x="581.00" y="95.50" font-size="11.0" textLength="7.20" lengthAdjust="spacingAndGlyphs">=</text>
<text x="591.20" y="95.80" font-size="11.0" font-style="italic" textLength="6.80" lengthAdjust="spacingAndGlyphs">ρ</text>
<text x="598.20" y="97.80" font-size="7.8" textLength="4.00" lengthAdjust="spacingAndGlyphs">c</text>
<text x="605.00" y="95.50" font-size="11.0" textLength="7.20" lengthAdjust="spacingAndGlyphs">=</text>
<text x="615.70" y="95.80" font-size="11.0" textLength="29.20" lengthAdjust="spacingAndGlyphs">0.005</text>
<text x="646.30" y="95.80" font-size="11.0" font-style="italic" textLength="7.20" lengthAdjust="spacingAndGlyphs">ρ</text>
<text x="654.10" y="97.80" font-size="7.8" textLength="15.00" lengthAdjust="spacingAndGlyphs">max</text>
<text x="669.60" y="95.80" font-size="11.0" textLength="3.50" lengthAdjust="spacingAndGlyphs">(</text>
<text x="673.30" y="95.80" font-size="11.0" font-style="italic" textLength="3.60" lengthAdjust="spacingAndGlyphs">t</text>
<text x="677.60" y="95.80" font-size="11.0" textLength="3.50" lengthAdjust="spacingAndGlyphs">)</text>
<text x="681.40" y="95.80" font-size="11.0" textLength="3.50" lengthAdjust="spacingAndGlyphs">(</text>
<text x="686.60" y="95.80" font-size="11.0" font-style="italic" textLength="5.40" lengthAdjust="spacingAndGlyphs">τ</text>
<text x="692.50" y="97.80" font-size="7.8" textLength="20.70" lengthAdjust="spacingAndGlyphs">0.005</text>
<text x="714.60" y="95.80" font-size="11.0" textLength="3.60" lengthAdjust="spacingAndGlyphs">)</text>
<text x="413.80" y="112.50" font-size="11.0" textLength="152.60" lengthAdjust="spacingAndGlyphs">Torque applied by gas inside</text>
<text x="571.40" y="112.50" font-size="11.0" font-style="italic" textLength="6.80" lengthAdjust="spacingAndGlyphs">ρ</text>
<text x="581.00" y="112.20" font-size="11.0" textLength="7.20" lengthAdjust="spacingAndGlyphs">=</text>
<text x="591.20" y="112.50" font-size="11.0" font-style="italic" textLength="6.80" lengthAdjust="spacingAndGlyphs">ρ</text>
<text x="598.20" y="114.50" font-size="7.8" textLength="4.00" lengthAdjust="spacingAndGlyphs">c</text>
<text x="605.00" y="112.20" font-size="11.0" textLength="7.20" lengthAdjust="spacingAndGlyphs">=</text>
<text x="615.70" y="112.50" font-size="11.0" textLength="29.20" lengthAdjust="spacingAndGlyphs">0.003</text>
<text x="646.30" y="112.50" font-size="11.0" font-style="italic" textLength="7.20" lengthAdjust="spacingAndGlyphs">ρ</text>
<text x="654.10" y="114.50" font-size="7.8" textLength="15.00" lengthAdjust="spacingAndGlyphs">max</text>
<text x="669.60" y="112.50" font-size="11.0" textLength="3.50" lengthAdjust="spacingAndGlyphs">(</text>
<text x="673.30" y="112.50" font-size="11.0" font-style="italic" textLength="3.60" lengthAdjust="spacingAndGlyphs">t</text>
<text x="677.60" y="112.50" font-size="11.0" textLength="3.50" lengthAdjust="spacingAndGlyphs">)</text>
<text x="681.40" y="112.50" font-size="11.0" textLength="3.50" lengthAdjust="spacingAndGlyphs">(</text>
<text x="686.60" y="112.50" font-size="11.0" font-style="italic" textLength="5.40" lengthAdjust="spacingAndGlyphs">τ</text>
<text x="692.50" y="114.50" font-size="7.8" textLength="20.70" lengthAdjust="spacingAndGlyphs">0.003</text>
<text x="714.60" y="112.50" font-size="11.0" textLength="3.60" lengthAdjust="spacingAndGlyphs">)</text>
<rect x="576.3" y="282.1" width="146.00" height="84.10" rx="1.2" ry="1.2" fill="#ffffff" fill-opacity="0.8" stroke="#dcdcdc" stroke-width="1"/>
<line x1="580.5" x2="601" y1="291.70" y2="291.70" stroke="#00f0f8" stroke-width="1.2" stroke-dasharray="3.6,1.6"/>
<line x1="580.5" x2="601" y1="307.90" y2="307.90" stroke="#00ff33" stroke-width="1.2" stroke-dasharray="3.6,1.6"/>
<line x1="580.5" x2="601" y1="324.10" y2="324.10" stroke="#ff00ff" stroke-width="1.2" stroke-dasharray="3.6,1.6"/>
<line x1="580.5" x2="601" y1="340.30" y2="340.30" stroke="#fad232" stroke-width="1.2" stroke-dasharray="3.6,1.6"/>
<line x1="580.5" x2="601" y1="356.50" y2="356.50" stroke="#3200e6" stroke-width="1.2" stroke-dasharray="3.6,1.6"/>
<text x="611.20" y="295.60" font-size="11.0" textLength="3.50" lengthAdjust="spacingAndGlyphs">(</text>
<text x="614.80" y="295.60" font-size="11.0" font-style="italic" textLength="5.40" lengthAdjust="spacingAndGlyphs">τ</text>
<text x="620.40" y="297.60" font-size="7.8" textLength="16.60" lengthAdjust="spacingAndGlyphs">0.01</text>
<text x="641.30" y="295.30" font-size="11.0" textLength="6.60" lengthAdjust="spacingAndGlyphs">−</text>
<text x="650.30" y="295.60" font-size="11.0" font-style="italic" textLength="5.40" lengthAdjust="spacingAndGlyphs">τ</text>
<text x="655.60" y="297.60" font-size="7.8" font-style="italic" textLength="4.00" lengthAdjust="spacingAndGlyphs">z</text>
<text x="660.60" y="295.60" font-size="11.0" textLength="8.60" lengthAdjust="spacingAndGlyphs">)/</text>
<text x="669.60" y="295.60" font-size="11.0" font-style="italic" textLength="5.40" lengthAdjust="spacingAndGlyphs">τ</text>
<text x="674.90" y="297.60" font-size="7.8" font-style="italic" textLength="4.00" lengthAdjust="spacingAndGlyphs">z</text>
<text x="684.00" y="295.60" font-size="11.0" textLength="6.60" lengthAdjust="spacingAndGlyphs">×</text>
<text x="693.20" y="295.60" font-size="11.0" textLength="18.60" lengthAdjust="spacingAndGlyphs">100</text>
<text x="611.20" y="311.80" font-size="11.0" textLength="3.50" lengthAdjust="spacingAndGlyphs">(</text>
<text x="614.80" y="311.80" font-size="11.0" font-style="italic" textLength="5.40" lengthAdjust="spacingAndGlyphs">τ</text>
<text x="620.40" y="313.80" font-size="7.8" textLength="21.40" lengthAdjust="spacingAndGlyphs">0.007</text>
<text x="646.20" y="311.50" font-size="11.0" textLength="6.60" lengthAdjust="spacingAndGlyphs">−</text>
<text x="655.20" y="311.80" font-size="11.0" font-style="italic" textLength="5.40" lengthAdjust="spacingAndGlyphs">τ</text>
<text x="660.50" y="313.80" font-size="7.8" font-style="italic" textLength="4.00" lengthAdjust="spacingAndGlyphs">z</text>
<text x="665.50" y="311.80" font-size="11.0" textLength="8.60" lengthAdjust="spacingAndGlyphs">)/</text>
<text x="674.50" y="311.80" font-size="11.0" font-style="italic" textLength="5.40" lengthAdjust="spacingAndGlyphs">τ</text>
<text x="679.80" y="313.80" font-size="7.8" font-style="italic" textLength="4.00" lengthAdjust="spacingAndGlyphs">z</text>
<text x="688.90" y="311.80" font-size="11.0" textLength="6.60" lengthAdjust="spacingAndGlyphs">×</text>
<text x="698.10" y="311.80" font-size="11.0" textLength="18.60" lengthAdjust="spacingAndGlyphs">100</text>
<text x="611.20" y="328.00" font-size="11.0" textLength="3.50" lengthAdjust="spacingAndGlyphs">(</text>
<text x="614.80" y="328.00" font-size="11.0" font-style="italic" textLength="5.40" lengthAdjust="spacingAndGlyphs">τ</text>
<text x="620.40" y="330.00" font-size="7.8" textLength="21.40" lengthAdjust="spacingAndGlyphs">0.006</text>
<text x="646.20" y="327.70" font-size="11.0" textLength="6.60" lengthAdjust="spacingAndGlyphs">−</text>
<text x="655.20" y="328.00" font-size="11.0" font-style="italic" textLength="5.40" lengthAdjust="spacingAndGlyphs">τ</text>
<text x="660.50" y="330.00" font-size="7.8" font-style="italic" textLength="4.00" lengthAdjust="spacingAndGlyphs">z</text>
<text x="665.50" y="328.00" font-size="11.0" textLength="8.60" lengthAdjust="spacingAndGlyphs">)/</text>
<text x="674.50" y="328.00" font-size="11.0" font-style="italic" textLength="5.40" lengthAdjust="spacingAndGlyphs">τ</text>
<text x="679.80" y="330.00" font-size="7.8" font-style="italic" textLength="4.00" lengthAdjust="spacingAndGlyphs">z</text>
<text x="688.90" y="328.00" font-size="11.0" textLength="6.60" lengthAdjust="spacingAndGlyphs">×</text>
<text x="698.10" y="328.00" font-size="11.0" textLength="18.60" lengthAdjust="spacingAndGlyphs">100</text>
<text x="611.20" y="344.20" font-size="11.0" textLength="3.50" lengthAdjust="spacingAndGlyphs">(</text>
<text x="614.80" y="344.20" font-size="11.0" font-style="italic" textLength="5.40" lengthAdjust="spacingAndGlyphs">τ</text>
<text x="620.40" y="346.20" font-size="7.8" textLength="21.40" lengthAdjust="spacingAndGlyphs">0.005</text>
<text x="646.20" y="343.90" font-size="11.0" textLength="6.60" lengthAdjust="spacingAndGlyphs">−</text>
<text x="655.20" y="344.20" font-size="11.0" font-style="italic" textLength="5.40" lengthAdjust="spacingAndGlyphs">τ</text>
<text x="660.50" y="346.20" font-size="7.8" font-style="italic" textLength="4.00" lengthAdjust="spacingAndGlyphs">z</text>
<text x="665.50" y="344.20" font-size="11.0" textLength="8.60" lengthAdjust="spacingAndGlyphs">)/</text>
<text x="674.50" y="344.20" font-size="11.0" font-style="italic" textLength="5.40" lengthAdjust="spacingAndGlyphs">τ</text>
<text x="679.80" y="346.20" font-size="7.8" font-style="italic" textLength="4.00" lengthAdjust="spacingAndGlyphs">z</text>
<text x="688.90" y="344.20" font-size="11.0" textLength="6.60" lengthAdjust="spacingAndGlyphs">×</text>
<text x="698.10" y="344.20" font-size="11.0" textLength="18.60" lengthAdjust="spacingAndGlyphs">100</text>
<text x="611.20" y="360.40" font-size="11.0" textLength="3.50" lengthAdjust="spacingAndGlyphs">(</text>
<text x="614.80" y="360.40" font-size="11.0" font-style="italic" textLength="5.40" lengthAdjust="spacingAndGlyphs">τ</text>
<text x="620.40" y="362.40" font-size="7.8" textLength="21.40" lengthAdjust="spacingAndGlyphs">0.003</text>
<text x="646.20" y="360.10" font-size="11.0" textLength="6.60" lengthAdjust="spacingAndGlyphs">−</text>
<text x="655.20" y="360.40" font-size="11.0" font-style="italic" textLength="5.40" lengthAdjust="spacingAndGlyphs">τ</text>
<text x="660.50" y="362.40" font-size="7.8" font-style="italic" textLength="4.00" lengthAdjust="spacingAndGlyphs">z</text>
<text x="665.50" y="360.40" font-size="11.0" textLength="8.60" lengthAdjust="spacingAndGlyphs">)/</text>
<text x="674.50" y="360.40" font-size="11.0" font-style="italic" textLength="5.40" lengthAdjust="spacingAndGlyphs">τ</text>
<text x="679.80" y="362.40" font-size="7.8" font-style="italic" textLength="4.00" lengthAdjust="spacingAndGlyphs">z</text>
<text x="688.90" y="360.40" font-size="11.0" textLength="6.60" lengthAdjust="spacingAndGlyphs">×</text>
<text x="698.10" y="360.40" font-size="11.0" textLength="18.60" lengthAdjust="spacingAndGlyphs">100</text>
</g>
</svg>
</body></html>
